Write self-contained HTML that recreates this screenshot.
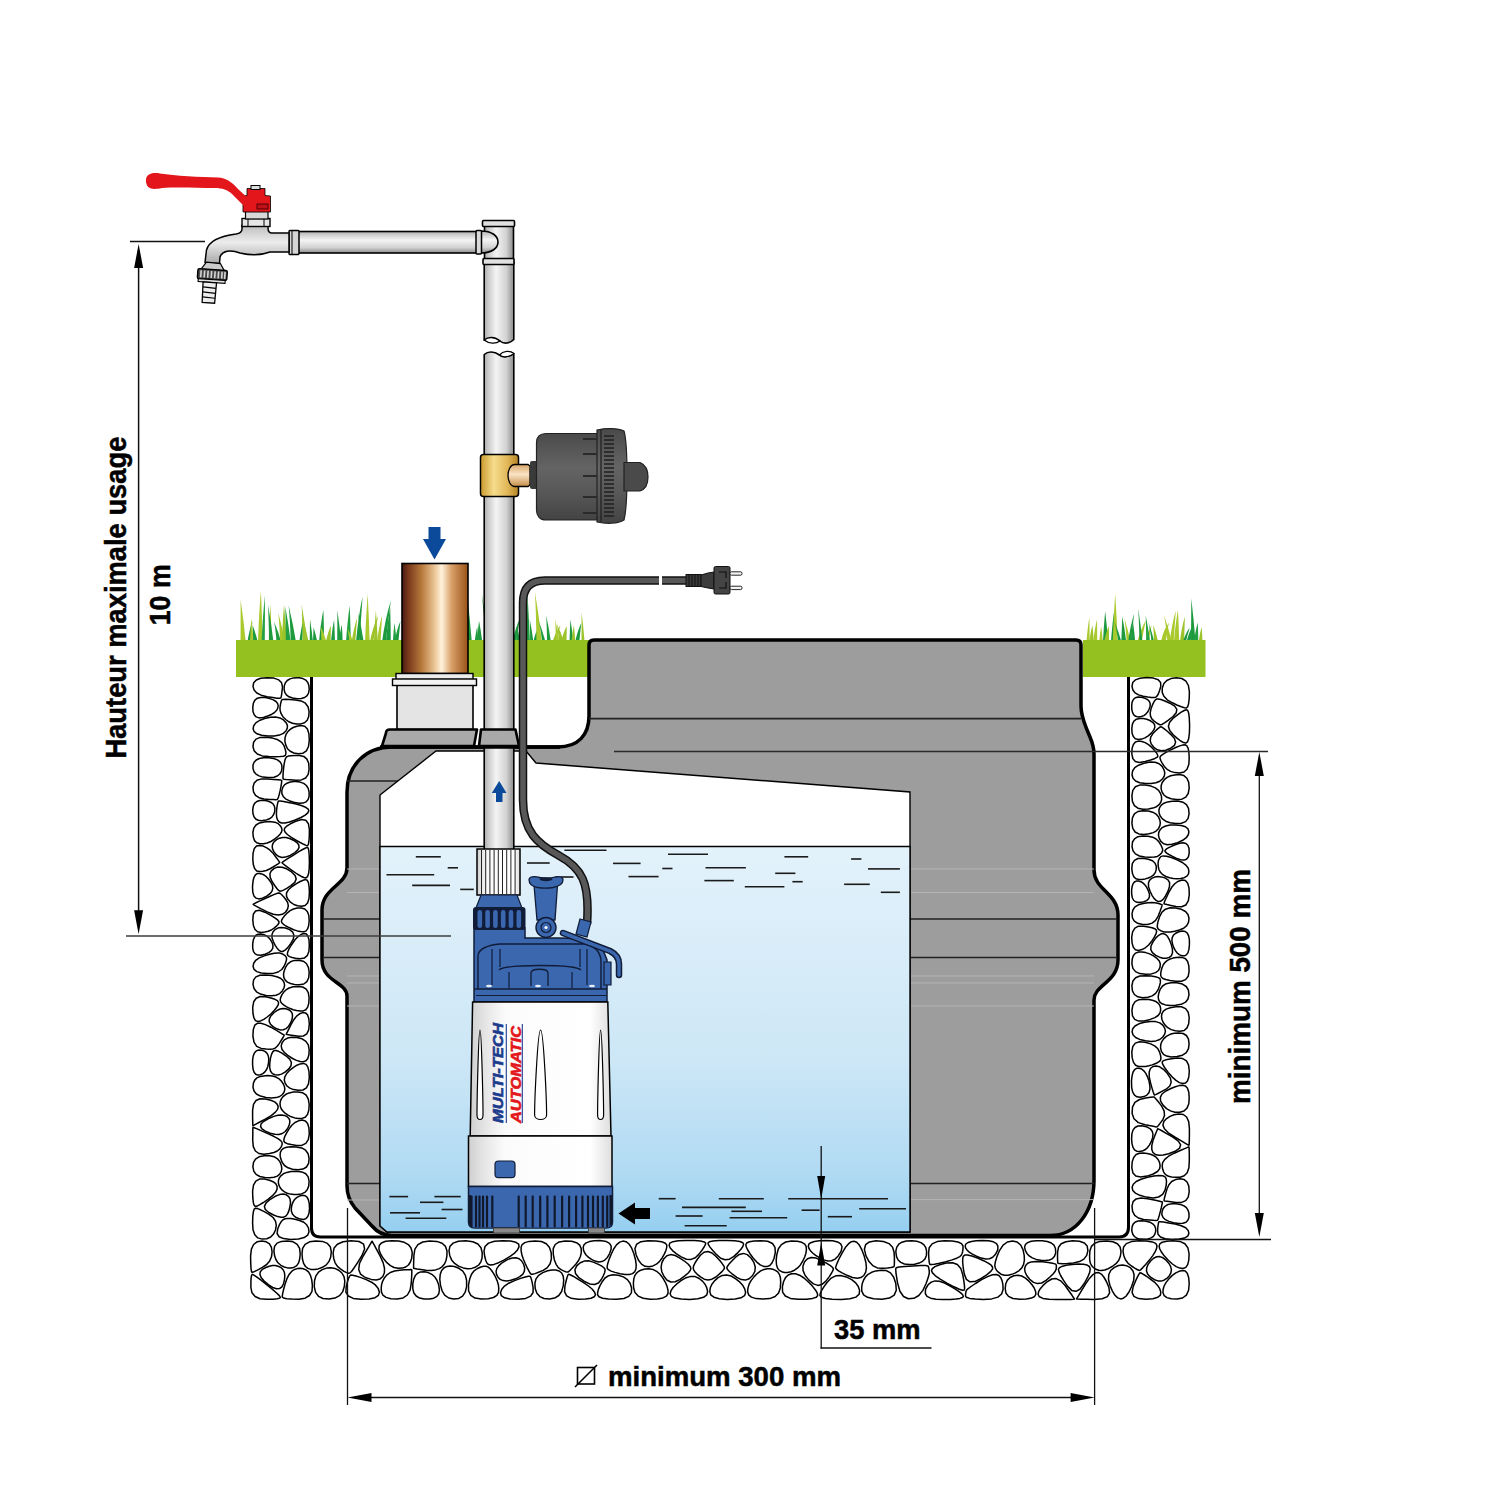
<!DOCTYPE html><html><head><meta charset="utf-8"><style>html,body{margin:0;padding:0;background:#fff;}svg{display:block;}</style></head><body><svg width="1500" height="1500" viewBox="0 0 1500 1500"><rect width="1500" height="1500" fill="#fff"/>
<defs>
 <linearGradient id="gWater" x1="0" y1="0" x2="0" y2="1">
  <stop offset="0" stop-color="#e3f2fb"/>
  <stop offset="0.55" stop-color="#cde7f6"/>
  <stop offset="0.85" stop-color="#b0daf3"/>
  <stop offset="1" stop-color="#95cff0"/>
 </linearGradient>
 <linearGradient id="gPipeV" x1="0" y1="0" x2="1" y2="0">
  <stop offset="0" stop-color="#a9a9a9"/>
  <stop offset="0.12" stop-color="#c8c8c8"/>
  <stop offset="0.4" stop-color="#f4f4f4"/>
  <stop offset="0.75" stop-color="#d2d2d2"/>
  <stop offset="1" stop-color="#8c8c8c"/>
 </linearGradient>
 <linearGradient id="gPipeH" x1="0" y1="0" x2="0" y2="1">
  <stop offset="0" stop-color="#a9a9a9"/>
  <stop offset="0.12" stop-color="#c8c8c8"/>
  <stop offset="0.4" stop-color="#f4f4f4"/>
  <stop offset="0.75" stop-color="#d2d2d2"/>
  <stop offset="1" stop-color="#8c8c8c"/>
 </linearGradient>
 <linearGradient id="gCopper" x1="0" y1="0" x2="1" y2="0">
  <stop offset="0" stop-color="#4a1a12"/>
  <stop offset="0.1" stop-color="#7a3a1c"/>
  <stop offset="0.3" stop-color="#b87a3c"/>
  <stop offset="0.5" stop-color="#ecc89a"/>
  <stop offset="0.6" stop-color="#fff2dc"/>
  <stop offset="0.75" stop-color="#d9a068"/>
  <stop offset="1" stop-color="#9a5218"/>
 </linearGradient>
 <linearGradient id="gBrass" x1="0" y1="0" x2="1" y2="0">
  <stop offset="0" stop-color="#c99a2c"/>
  <stop offset="0.35" stop-color="#f6dc8c"/>
  <stop offset="0.7" stop-color="#e2b85a"/>
  <stop offset="1" stop-color="#b48424"/>
 </linearGradient>
 <linearGradient id="gBrass2" x1="0" y1="0" x2="0" y2="1">
  <stop offset="0" stop-color="#d7a86a"/>
  <stop offset="0.45" stop-color="#fbe3c6"/>
  <stop offset="1" stop-color="#c48e48"/>
 </linearGradient>
 <linearGradient id="gDark" x1="0" y1="0" x2="0" y2="1">
  <stop offset="0" stop-color="#4a4a4a"/>
  <stop offset="0.4" stop-color="#646464"/>
  <stop offset="0.7" stop-color="#575757"/>
  <stop offset="1" stop-color="#434343"/>
 </linearGradient>
 <linearGradient id="gPumpW" x1="0" y1="0" x2="1" y2="0">
  <stop offset="0" stop-color="#cfcfcf"/>
  <stop offset="0.1" stop-color="#e4e4e4"/>
  <stop offset="0.25" stop-color="#fbfbfb"/>
  <stop offset="0.85" stop-color="#ffffff"/>
  <stop offset="1" stop-color="#dedede"/>
 </linearGradient>
 <linearGradient id="gTap" x1="0" y1="0" x2="0" y2="1">
  <stop offset="0" stop-color="#bdbdbd"/>
  <stop offset="0.45" stop-color="#ececec"/>
  <stop offset="1" stop-color="#a8a8a8"/>
 </linearGradient>
</defs>
<path d="M240.5,643 Q240.7,618.1 240.6,599.4 Q243.6,620.2 245.9,643Z" fill="#a9c92c"/><path d="M247.3,643 Q249.2,630.2 252.4,621.3 Q251.4,631.2 250.4,643Z" fill="#1d9a3e"/><path d="M250.0,643 Q250.6,628.3 251.3,618.0 Q252.7,629.5 253.8,643Z" fill="#a9c92c"/><path d="M253.2,643 Q253.1,632.4 252.6,625.3 Q255.7,633.2 258.1,643Z" fill="#1d9a3e"/><path d="M257.9,643 Q259.0,613.2 260.9,590.4 Q262.0,615.7 262.7,643Z" fill="#a9c92c"/><path d="M261.5,643 Q262.8,615.9 264.9,595.3 Q265.0,618.2 264.8,643Z" fill="#23a041"/><path d="M268.6,643 Q269.4,620.6 270.5,604.0 Q271.2,622.5 271.7,643Z" fill="#a9c92c"/><path d="M269.1,643 Q268.8,621.1 268.0,604.8 Q271.2,622.9 273.6,643Z" fill="#1d9a3e"/><path d="M276.6,643 Q275.8,630.5 274.1,621.8 Q278.3,631.4 281.5,643Z" fill="#1d9a3e"/><path d="M280.1,643 Q279.6,625.4 278.3,612.7 Q282.2,626.9 285.1,643Z" fill="#a9c92c"/><path d="M281.8,643 Q282.7,621.0 284.0,604.7 Q285.7,622.8 286.9,643Z" fill="#9cc42a"/><path d="M285.8,643 Q285.7,621.9 285.3,606.4 Q288.5,623.7 290.9,643Z" fill="#23a041"/><path d="M290.8,643 Q290.2,621.4 288.6,605.3 Q292.9,623.2 296.2,643Z" fill="#1d9a3e"/><path d="M299.2,643 Q300.7,629.9 303.2,620.7 Q302.8,630.9 302.3,643Z" fill="#1d9a3e"/><path d="M302.8,643 Q302.5,620.9 301.6,604.4 Q304.9,622.7 307.5,643Z" fill="#9cc42a"/><path d="M303.9,643 Q303.2,626.3 301.7,614.2 Q305.8,627.6 308.9,643Z" fill="#9cc42a"/><path d="M309.7,643 Q309.9,629.1 310.0,619.3 Q311.8,630.2 313.1,643Z" fill="#1d9a3e"/><path d="M312.9,643 Q313.3,633.6 313.6,627.5 Q315.9,634.3 317.5,643Z" fill="#1d9a3e"/><path d="M318.9,643 Q320.6,623.9 323.4,609.8 Q323.9,625.4 324.1,643Z" fill="#1d9a3e"/><path d="M321.4,643 Q321.3,632.9 320.6,626.3 Q324.2,633.6 326.9,643Z" fill="#a9c92c"/><path d="M325.7,643 Q327.6,632.4 330.9,625.4 Q330.8,633.2 330.6,643Z" fill="#9cc42a"/><path d="M330.8,643 Q332.1,629.3 334.1,619.7 Q334.7,630.3 335.0,643Z" fill="#1d9a3e"/><path d="M337.2,643 Q337.3,624.3 337.4,610.6 Q339.6,625.8 341.3,643Z" fill="#1d9a3e"/><path d="M338.9,643 Q340.0,632.0 341.8,624.6 Q342.4,632.8 342.7,643Z" fill="#1d9a3e"/><path d="M345.9,643 Q347.4,621.5 349.7,605.5 Q350.5,623.3 350.8,643Z" fill="#23a041"/><path d="M349.4,643 Q348.8,633.8 347.4,627.9 Q350.9,634.5 353.6,643Z" fill="#a9c92c"/><path d="M351.5,643 Q353.6,628.4 357.1,618.0 Q356.2,629.5 355.2,643Z" fill="#9cc42a"/><path d="M355.9,643 Q358.3,616.6 362.6,596.6 Q361.0,618.8 359.6,643Z" fill="#1d9a3e"/><path d="M359.9,643 Q359.4,625.5 358.2,612.7 Q361.4,626.9 363.9,643Z" fill="#1d9a3e"/><path d="M365.0,643 Q366.1,615.2 367.7,594.1 Q368.9,617.6 369.7,643Z" fill="#a9c92c"/><path d="M369.6,643 Q372.7,627.2 378.2,615.8 Q375.5,628.4 373.1,643Z" fill="#9cc42a"/><path d="M373.9,643 Q374.7,624.2 375.9,610.4 Q377.1,625.7 377.8,643Z" fill="#9cc42a"/><path d="M376.8,643 Q378.8,626.9 382.1,615.4 Q381.3,628.2 380.5,643Z" fill="#a9c92c"/><path d="M381.9,643 Q385.1,618.9 390.8,600.8 Q388.1,620.9 385.7,643Z" fill="#1d9a3e"/><path d="M385.8,643 Q387.5,622.7 390.2,607.7 Q390.7,624.4 390.8,643Z" fill="#1d9a3e"/><path d="M392.8,643 Q393.5,631.0 394.5,622.7 Q395.8,631.9 396.7,643Z" fill="#23a041"/><path d="M394.4,643 Q396.6,630.1 400.4,621.1 Q399.4,631.1 398.3,643Z" fill="#1d9a3e"/><path d="M401.9,643 Q404.1,622.7 407.8,607.8 Q406.7,624.4 405.7,643Z" fill="#9cc42a"/><path d="M403.3,643 Q405.5,627.0 409.3,615.5 Q408.5,628.3 407.7,643Z" fill="#1d9a3e"/><path d="M409.0,643 Q410.3,633.0 412.3,626.4 Q413.2,633.7 413.7,643Z" fill="#1d9a3e"/><path d="M411.5,643 Q410.7,618.1 408.7,599.3 Q412.7,620.2 415.8,643Z" fill="#9cc42a"/><path d="M416.8,643 Q415.9,634.0 414.2,628.4 Q417.6,634.7 420.2,643Z" fill="#9cc42a"/><path d="M421.2,643 Q423.7,627.0 428.1,615.6 Q427.4,628.3 426.6,643Z" fill="#23a041"/><path d="M427.9,643 Q427.9,618.9 427.6,600.8 Q429.6,620.9 431.2,643Z" fill="#9cc42a"/><path d="M428.8,643 Q428.5,632.4 427.6,625.4 Q430.4,633.2 432.4,643Z" fill="#9cc42a"/><path d="M436.1,643 Q436.4,622.7 436.7,607.7 Q438.2,624.4 439.2,643Z" fill="#1d9a3e"/><path d="M440.2,643 Q438.8,631.4 435.9,623.6 Q440.0,632.3 443.3,643Z" fill="#1d9a3e"/><path d="M443.0,643 Q441.4,627.6 438.2,616.6 Q443.0,628.8 446.8,643Z" fill="#23a041"/><path d="M448.2,643 Q450.6,633.7 454.5,627.7 Q454.2,634.3 453.7,643Z" fill="#9cc42a"/><path d="M449.7,643 Q450.3,631.8 451.1,624.3 Q453.3,632.6 454.9,643Z" fill="#23a041"/><path d="M454.7,643 Q453.5,615.2 450.9,594.2 Q454.9,617.6 458.0,643Z" fill="#a9c92c"/><path d="M459.2,643 Q461.3,622.6 465.0,607.6 Q463.6,624.3 462.2,643Z" fill="#1d9a3e"/><path d="M465.6,643 Q464.9,614.9 463.3,593.6 Q467.3,617.3 470.3,643Z" fill="#9cc42a"/><path d="M466.5,643 Q466.8,615.1 467.1,593.9 Q469.8,617.4 471.9,643Z" fill="#1d9a3e"/><path d="M474.6,643 Q475.6,633.1 477.2,626.7 Q477.9,633.8 478.3,643Z" fill="#1d9a3e"/><path d="M476.9,643 Q477.8,630.0 479.1,620.9 Q481.0,631.0 482.4,643Z" fill="#1d9a3e"/><path d="M483.2,643 Q484.7,631.4 487.1,623.6 Q487.5,632.3 487.6,643Z" fill="#1d9a3e"/><path d="M485.6,643 Q484.3,615.1 481.7,593.9 Q486.4,617.4 490.0,643Z" fill="#23a041"/><path d="M487.9,643 Q486.6,633.3 483.7,627.1 Q489.1,634.0 493.4,643Z" fill="#23a041"/><path d="M493.4,643 Q491.9,626.4 489.1,614.4 Q493.3,627.7 496.5,643Z" fill="#23a041"/><path d="M498.3,643 Q498.0,628.2 497.1,617.7 Q499.9,629.4 502.0,643Z" fill="#1d9a3e"/><path d="M504.0,643 Q503.4,628.2 502.0,617.7 Q506.0,629.4 509.0,643Z" fill="#a9c92c"/><path d="M508.2,643 Q509.1,632.5 510.6,625.6 Q511.7,633.3 512.4,643Z" fill="#23a041"/><path d="M512.4,643 Q515.1,628.4 520.0,618.1 Q517.9,629.5 516.1,643Z" fill="#1d9a3e"/><path d="M516.3,643 Q516.5,633.1 516.7,626.6 Q518.9,633.8 520.5,643Z" fill="#1d9a3e"/><path d="M521.1,643 Q523.3,628.0 527.2,617.3 Q525.6,629.2 524.2,643Z" fill="#9cc42a"/><path d="M526.6,643 Q527.0,615.0 527.5,593.7 Q528.9,617.3 530.0,643Z" fill="#23a041"/><path d="M530.1,643 Q530.0,629.2 529.8,619.5 Q531.9,630.3 533.6,643Z" fill="#1d9a3e"/><path d="M533.0,643 Q535.0,633.5 538.4,627.3 Q538.6,634.1 538.4,643Z" fill="#1d9a3e"/><path d="M536.5,643 Q536.1,614.1 535.0,592.1 Q539.0,616.5 542.0,643Z" fill="#a9c92c"/><path d="M542.2,643 Q541.0,629.7 538.5,620.4 Q542.6,630.7 545.9,643Z" fill="#1d9a3e"/><path d="M547.0,643 Q546.9,626.8 546.2,615.2 Q549.0,628.1 551.1,643Z" fill="#1d9a3e"/><path d="M552.2,643 Q555.2,632.3 560.4,625.2 Q558.0,633.1 556.0,643Z" fill="#9cc42a"/><path d="M555.9,643 Q555.7,628.9 555.2,619.0 Q557.6,630.0 559.4,643Z" fill="#a9c92c"/><path d="M558.8,643 Q558.3,631.7 556.9,624.1 Q561.1,632.5 564.2,643Z" fill="#9cc42a"/><path d="M560.9,643 Q563.1,632.8 566.8,626.1 Q566.7,633.5 566.4,643Z" fill="#9cc42a"/><path d="M569.5,643 Q569.9,629.2 570.4,619.5 Q572.2,630.2 573.6,643Z" fill="#1d9a3e"/><path d="M571.4,643 Q572.4,632.4 573.9,625.3 Q574.8,633.2 575.4,643Z" fill="#9cc42a"/><path d="M575.0,643 Q577.3,631.2 581.3,623.1 Q580.2,632.1 579.2,643Z" fill="#1d9a3e"/><path d="M581.5,643 Q581.6,625.4 581.6,612.6 Q583.4,626.8 584.7,643Z" fill="#9cc42a"/><path d="M1086.4,643 Q1087.5,628.1 1089.4,617.6 Q1089.6,629.3 1089.6,643Z" fill="#a9c92c"/><path d="M1089.2,643 Q1090.4,632.3 1092.4,625.2 Q1093.3,633.1 1093.8,643Z" fill="#9cc42a"/><path d="M1093.1,643 Q1094.6,629.2 1097.0,619.6 Q1097.2,630.3 1097.2,643Z" fill="#a9c92c"/><path d="M1099.1,643 Q1099.9,633.0 1101.2,626.4 Q1102.2,633.7 1102.9,643Z" fill="#a9c92c"/><path d="M1102.9,643 Q1103.9,624.6 1105.2,611.2 Q1107.0,626.1 1108.2,643Z" fill="#1d9a3e"/><path d="M1103.8,643 Q1105.7,632.8 1108.9,626.2 Q1109.1,633.6 1109.0,643Z" fill="#9cc42a"/><path d="M1110.9,643 Q1112.2,624.0 1114.3,610.1 Q1114.9,625.6 1115.2,643Z" fill="#1d9a3e"/><path d="M1112.7,643 Q1113.7,615.3 1115.2,594.2 Q1116.8,617.6 1117.8,643Z" fill="#a9c92c"/><path d="M1118.3,643 Q1117.0,630.4 1114.4,621.7 Q1118.6,631.3 1121.8,643Z" fill="#1d9a3e"/><path d="M1121.3,643 Q1121.8,627.5 1122.3,616.4 Q1124.7,628.7 1126.4,643Z" fill="#1d9a3e"/><path d="M1126.7,643 Q1126.0,628.5 1124.4,618.3 Q1128.0,629.6 1130.7,643Z" fill="#a9c92c"/><path d="M1128.0,643 Q1130.2,626.0 1134.2,613.6 Q1132.5,627.3 1131.0,643Z" fill="#1d9a3e"/><path d="M1130.7,643 Q1131.6,630.6 1133.0,622.2 Q1134.4,631.6 1135.3,643Z" fill="#1d9a3e"/><path d="M1137.1,643 Q1140.2,629.6 1145.8,620.4 Q1143.5,630.7 1141.4,643Z" fill="#a9c92c"/><path d="M1139.5,643 Q1139.1,623.0 1138.2,608.3 Q1140.7,624.7 1142.6,643Z" fill="#1d9a3e"/><path d="M1145.5,643 Q1147.7,632.1 1151.6,624.8 Q1150.0,632.9 1148.5,643Z" fill="#a9c92c"/><path d="M1146.2,643 Q1146.1,626.8 1145.7,615.3 Q1148.3,628.1 1150.3,643Z" fill="#23a041"/><path d="M1151.6,643 Q1150.5,630.4 1148.2,621.7 Q1151.8,631.3 1154.6,643Z" fill="#1d9a3e"/><path d="M1153.9,643 Q1153.8,632.1 1153.2,624.8 Q1156.2,632.9 1158.5,643Z" fill="#9cc42a"/><path d="M1160.7,643 Q1162.9,632.8 1166.6,626.1 Q1165.9,633.5 1165.1,643Z" fill="#a9c92c"/><path d="M1160.9,643 Q1163.8,630.9 1168.9,622.6 Q1167.2,631.8 1165.6,643Z" fill="#a9c92c"/><path d="M1167.5,643 Q1166.4,626.9 1164.0,615.3 Q1168.6,628.2 1172.1,643Z" fill="#a9c92c"/><path d="M1169.5,643 Q1171.8,624.2 1175.8,610.4 Q1174.7,625.7 1173.6,643Z" fill="#a9c92c"/><path d="M1173.8,643 Q1175.4,624.0 1178.0,610.1 Q1178.8,625.6 1179.2,643Z" fill="#a9c92c"/><path d="M1179.7,643 Q1181.6,627.6 1184.9,616.6 Q1184.5,628.8 1184.1,643Z" fill="#9cc42a"/><path d="M1182.6,643 Q1185.2,633.6 1189.8,627.5 Q1187.6,634.3 1185.6,643Z" fill="#1d9a3e"/><path d="M1186.3,643 Q1188.7,632.4 1192.8,625.4 Q1191.6,633.2 1190.4,643Z" fill="#1d9a3e"/><path d="M1191.0,643 Q1191.2,617.5 1191.3,598.3 Q1193.8,619.7 1195.6,643Z" fill="#1d9a3e"/><path d="M1193.8,643 Q1195.3,630.8 1197.8,622.4 Q1198.2,631.7 1198.3,643Z" fill="#23a041"/><path d="M1198.6,643 Q1199.7,633.2 1201.6,626.9 Q1202.2,633.9 1202.6,643Z" fill="#9cc42a"/><rect x="236" y="640" width="354" height="37" fill="#94c11f"/><rect x="1083" y="640" width="122.5" height="37" fill="#94c11f"/><g fill="#fff" stroke="#000" stroke-width="1.5" stroke-linejoin="round"><path d="M296.5,1171.3 301.9,1171.9 305.8,1173.7 308.2,1176.9 309.1,1181.3 308.7,1186.1 307.2,1189.8 304.8,1192.4 301.4,1193.9 297.4,1194.4 293.7,1194.5 290.4,1194.1 287.2,1193.2 284.5,1191.9 282.2,1190.2 280.4,1188.1 279.1,1185.7 278.4,1183.0 278.4,1180.5 279.2,1178.1 280.9,1175.8 283.3,1173.8 286.8,1172.4 291.1,1171.5Z"/><path d="M281.4,1150.2 283.4,1148.4 286.5,1147.2 290.8,1146.7 296.2,1146.9 301.7,1147.9 305.6,1150.2 308.1,1153.7 309.1,1158.5 308.6,1163.4 306.5,1167.0 303.0,1169.1 298.0,1169.8 292.5,1169.2 288.0,1167.8 284.5,1165.5 282.1,1162.2 280.7,1158.6 280.1,1155.4 280.3,1152.6Z"/><path d="M252.6,1191.1 252.8,1197.7 253.3,1202.4 254.1,1205.3 255.3,1206.4 257.1,1206.1 259.8,1204.7 263.4,1202.5 268.0,1199.3 272.5,1195.7 275.6,1192.3 277.1,1189.2 277.1,1186.3 275.7,1183.7 273.1,1181.7 269.4,1180.2 264.5,1179.1 259.4,1179.1 255.8,1181.1 253.5,1185.1Z"/><path d="M286.4,1194.8 283.2,1194.1 279.5,1194.6 275.2,1196.3 270.3,1199.3 266.1,1202.9 264.4,1206.4 265.3,1209.5 268.8,1212.5 273.6,1215.0 277.7,1216.6 281.1,1217.3 283.7,1217.2 285.7,1216.2 287.4,1214.1 288.8,1211.1 289.9,1207.0 290.5,1202.7 290.1,1199.2 288.7,1196.6Z"/><path d="M309.0,1231.8 308.5,1228.0 306.7,1224.8 303.8,1222.3 299.6,1220.5 295.0,1219.3 291.0,1218.6 287.7,1218.4 285.1,1218.7 283.0,1219.7 281.1,1221.8 279.3,1224.9 277.7,1229.1 277.1,1233.5 279.0,1236.7 283.6,1238.6 290.6,1239.4 298.5,1239.0 304.2,1237.6 307.7,1235.2Z"/><path d="M264.0,1155.7 269.6,1155.7 274.1,1156.7 277.5,1158.8 280.0,1161.9 281.4,1165.6 281.8,1168.8 281.2,1171.7 279.7,1174.1 277.3,1176.1 274.0,1177.3 269.8,1177.8 264.8,1177.6 259.8,1176.5 256.1,1174.4 253.8,1171.2 252.9,1166.9 253.5,1162.4 255.5,1159.1 259.0,1156.8Z"/><path d="M255.6,1208.2 254.3,1208.9 253.4,1211.6 252.8,1216.1 252.6,1222.7 253.0,1229.7 254.8,1234.8 257.8,1237.9 262.1,1239.1 266.8,1238.7 270.7,1237.0 273.5,1234.1 275.5,1230.0 276.3,1225.3 275.5,1221.2 273.1,1217.5 269.0,1214.3 264.3,1211.7 260.5,1209.8 257.6,1208.6Z"/><path d="M263.9,1154.2 269.4,1153.5 273.9,1152.5 277.3,1151.0 279.6,1149.2 281.0,1147.1 281.9,1145.2 282.2,1143.6 281.9,1142.1 280.7,1140.6 278.0,1138.6 273.7,1136.3 267.8,1133.6 261.6,1130.9 257.1,1128.9 254.2,1127.7 253.0,1127.2 252.9,1127.9 252.8,1130.3 252.8,1134.4 252.7,1140.3 253.3,1146.6 255.4,1151.0 258.9,1153.5Z"/><path d="M301.9,1195.4 299.0,1196.3 296.6,1197.6 294.6,1199.5 293.1,1201.9 291.9,1204.9 291.3,1208.3 291.4,1211.3 292.4,1213.9 294.2,1216.1 296.8,1217.8 300.2,1219.1 303.5,1219.5 306.0,1218.6 307.8,1216.5 309.0,1213.3 309.5,1208.8 309.3,1203.9 308.5,1200.1 307.2,1197.4 305.3,1195.8 302.8,1195.3Z"/><path d="M309.3,1134.0 308.9,1127.8 307.6,1123.5 305.4,1120.9 302.2,1120.1 298.5,1120.8 295.0,1122.5 291.8,1125.3 288.9,1129.1 286.4,1133.3 284.7,1136.7 283.9,1139.3 283.9,1141.2 284.9,1142.5 287.3,1143.7 291.2,1144.6 296.4,1145.4 301.8,1145.4 305.8,1143.4 308.3,1139.7Z"/><path d="M267.7,1119.0 263.4,1121.6 261.0,1124.1 260.6,1126.5 262.0,1128.8 265.3,1131.1 270.2,1133.2 274.8,1134.3 278.9,1134.5 282.3,1133.5 285.2,1131.5 287.6,1128.5 289.1,1125.4 289.8,1122.6 289.7,1120.2 288.7,1118.2 286.9,1116.5 284.3,1115.4 281.3,1115.0 277.8,1115.3 273.8,1116.4 269.3,1118.2Z"/><path d="M280.3,1106.2 280.0,1103.6 280.4,1101.1 281.5,1098.6 283.3,1096.3 285.9,1094.3 289.2,1092.9 293.2,1092.1 298.0,1092.0 302.8,1092.8 306.2,1095.2 308.3,1099.1 309.2,1104.5 308.8,1110.3 307.5,1114.5 305.2,1117.2 302.0,1118.4 298.3,1118.4 294.7,1117.9 291.3,1116.8 288.0,1115.2 285.1,1113.2 282.9,1111.0 281.2,1108.7Z"/><path d="M278.2,1106.6 277.1,1104.1 274.7,1101.9 270.8,1100.2 265.6,1098.9 260.0,1098.7 256.0,1100.5 253.5,1104.3 252.6,1110.3 252.6,1116.8 252.7,1121.6 252.8,1124.5 252.9,1125.7 253.6,1125.3 255.9,1124.1 259.8,1122.0 265.3,1119.1 271.2,1115.6 275.2,1112.4 277.6,1109.4Z"/><path d="M283.2,1083.7 284.5,1086.7 284.8,1089.5 284.1,1092.1 282.4,1094.5 279.7,1096.5 276.1,1097.6 271.5,1097.9 266.0,1097.5 260.4,1096.1 256.4,1094.0 254.0,1091.0 253.0,1087.2 253.4,1083.2 254.7,1080.1 256.9,1077.9 260.1,1076.5 263.7,1075.9 267.2,1075.6 270.5,1075.8 273.6,1076.3 276.5,1077.3 279.1,1078.9 281.3,1081.0Z"/><path d="M285.1,1083.1 287.0,1086.0 289.8,1088.1 293.6,1089.6 298.2,1090.3 303.0,1090.0 306.4,1087.8 308.5,1083.8 309.3,1077.9 309.0,1071.6 307.9,1067.1 306.1,1064.4 303.4,1063.4 300.2,1063.9 296.9,1065.2 293.5,1067.3 289.9,1070.1 286.7,1073.5 284.8,1076.8 284.3,1080.0Z"/><path d="M282.1,1042.7 284.3,1039.9 287.6,1038.1 291.7,1037.3 296.9,1037.5 302.1,1038.8 305.9,1041.3 308.3,1044.9 309.2,1049.8 308.9,1054.8 307.8,1058.5 306.0,1060.8 303.3,1061.7 300.1,1061.5 296.5,1060.4 292.5,1058.5 288.2,1055.7 284.3,1052.4 281.9,1049.2 281.2,1045.9Z"/><path d="M285.9,1055.8 289.7,1059.1 291.4,1062.5 291.0,1065.8 288.6,1069.2 285.0,1072.2 281.5,1074.1 278.2,1075.0 275.0,1074.8 272.4,1073.6 270.6,1071.2 269.7,1067.7 269.8,1063.0 270.5,1058.1 271.5,1054.4 272.7,1051.9 274.1,1050.6 276.0,1050.5 278.6,1051.3 281.9,1053.1Z"/><path d="M273.2,1013.4 270.6,1016.3 269.3,1019.1 269.2,1021.7 270.5,1024.2 273.0,1026.6 276.7,1028.8 280.2,1029.9 283.3,1029.8 286.1,1028.6 288.6,1026.2 290.7,1022.7 292.1,1019.1 292.5,1016.0 292.2,1013.4 290.9,1011.3 288.7,1009.7 285.9,1008.7 283.0,1008.4 280.1,1009.0 277.2,1010.4 274.2,1012.5Z"/><path d="M261.8,1050.2 258.7,1050.0 256.2,1050.9 254.4,1052.9 253.2,1056.0 252.6,1060.2 252.6,1065.2 253.1,1069.3 254.1,1072.3 255.7,1074.3 257.8,1075.1 260.4,1074.7 262.9,1073.6 264.9,1071.9 266.6,1069.5 267.8,1066.5 268.5,1062.9 268.8,1059.1 268.3,1056.0 267.2,1053.5 265.3,1051.6 262.8,1050.4Z"/><path d="M280.3,1041.9 282.4,1038.5 283.7,1036.3 284.2,1035.2 283.7,1034.8 281.3,1033.3 276.9,1030.7 270.9,1027.2 265.4,1024.6 260.9,1023.3 257.3,1023.3 254.8,1025.2 253.3,1029.5 252.9,1036.0 254.0,1042.2 256.7,1046.4 261.2,1048.4 266.2,1049.0 270.2,1049.2 273.0,1048.9 275.1,1048.1 277.2,1046.3 279.4,1043.4Z"/><path d="M298.5,1036.3 293.3,1035.5 289.6,1034.9 287.2,1034.5 286.3,1034.3 286.5,1033.7 287.4,1031.9 288.9,1028.8 291.1,1024.4 293.8,1019.7 296.6,1016.1 299.6,1013.8 302.7,1012.6 305.5,1012.9 307.6,1014.9 308.8,1018.6 309.3,1024.0 308.7,1029.9 306.8,1033.9 303.4,1036.0Z"/><path d="M283.4,992.6 285.9,989.9 289.1,988.0 293.2,986.8 298.0,986.4 302.7,987.0 306.2,989.1 308.3,992.6 309.1,997.7 308.8,1003.1 307.7,1007.1 305.8,1009.7 303.2,1010.9 300.0,1011.0 296.6,1010.6 293.2,1009.7 289.6,1008.3 286.2,1006.6 283.6,1004.9 281.7,1003.3 280.6,1001.7 280.2,999.9 280.6,997.9 281.6,995.4Z"/><path d="M266.0,995.4 260.5,994.1 256.5,991.8 254.0,988.5 253.0,984.3 253.6,979.9 255.9,976.9 259.9,975.3 265.5,974.9 271.8,975.6 276.8,976.7 280.5,978.3 282.9,980.4 284.2,982.8 284.6,985.3 283.9,988.1 282.3,990.9 279.7,993.6 276.1,995.2 271.6,995.8Z"/><path d="M299.4,984.8 294.5,984.4 290.5,983.5 287.4,982.1 285.2,980.1 283.9,977.6 283.5,974.7 284.0,971.4 285.4,967.7 287.6,964.2 290.5,961.8 294.3,960.4 298.7,960.2 303.2,961.2 306.4,963.5 308.4,967.3 309.2,972.4 308.7,977.8 306.9,981.6 303.8,984.0Z"/><path d="M265.7,996.8 260.2,996.5 256.2,998.2 253.7,1001.8 252.7,1007.4 253.0,1013.5 253.9,1017.9 255.5,1020.6 257.8,1021.5 260.6,1020.9 263.8,1019.4 267.2,1017.0 271.1,1013.7 274.6,1010.0 277.1,1006.8 278.4,1004.3 278.5,1002.3 277.4,1000.7 274.9,999.3 271.0,998.0Z"/><path d="M267.4,973.6 261.2,973.0 256.8,971.6 254.1,969.4 253.1,966.4 253.7,963.2 255.7,960.3 259.2,957.9 264.2,955.9 269.7,954.3 274.2,953.3 277.6,952.9 280.0,953.1 281.8,953.7 283.3,954.4 284.6,955.3 285.7,956.3 286.5,957.7 286.5,959.8 285.7,962.6 284.2,966.0 281.8,969.5 278.2,972.0 273.4,973.4Z"/><path d="M275.4,929.3 273.1,931.7 272.0,934.5 272.0,937.8 273.3,941.6 275.2,945.4 277.1,948.2 279.0,950.3 280.8,951.4 282.7,951.5 285.0,950.2 287.7,947.6 290.7,943.7 293.3,939.1 293.9,935.3 292.7,932.1 289.6,929.6 285.5,928.0 281.7,927.4 278.4,927.8Z"/><path d="M267.2,911.9 261.2,908.9 256.9,906.6 254.2,905.1 253.2,904.4 253.8,903.9 255.8,902.8 259.4,901.1 264.5,898.7 270.1,896.2 274.4,894.4 277.4,893.3 279.2,893.0 280.3,893.5 281.7,894.7 283.6,896.7 285.8,899.5 287.7,902.7 288.3,905.9 287.6,909.0 285.6,912.0 282.4,914.3 278.3,915.1 273.2,914.3Z"/><path d="M301.5,906.3 297.5,905.8 293.9,904.5 290.8,902.4 288.1,899.6 286.5,896.3 286.5,893.0 288.4,889.8 292.0,886.5 296.5,883.6 300.2,881.5 303.2,880.2 305.5,879.6 307.2,880.2 308.4,882.6 309.1,886.6 309.4,892.3 309.0,898.5 307.6,902.9 305.1,905.5Z"/><path d="M289.5,927.8 293.6,929.7 297.3,930.9 300.6,931.6 303.5,931.8 305.9,931.1 307.6,928.9 308.7,925.5 309.2,920.6 308.8,915.3 307.3,911.5 304.8,909.0 301.3,908.0 297.2,908.1 293.5,909.0 290.1,910.6 287.1,913.1 284.6,915.8 282.8,918.1 281.7,920.0 281.4,921.5 281.9,922.8 283.4,924.3 285.9,926.0Z"/><path d="M274.1,928.1 271.3,930.0 268.2,931.3 264.8,932.1 261.1,932.4 257.6,931.8 255.0,929.5 253.4,925.5 252.8,919.9 253.3,914.2 255.6,911.0 259.4,910.3 264.9,912.2 270.9,915.4 275.2,918.1 277.9,920.2 279.0,921.7 278.9,923.0 278.0,924.5 276.4,926.2Z"/><path d="M252.5,887.1 252.8,892.3 253.9,895.9 255.9,898.1 258.7,898.9 262.4,898.2 266.7,896.1 270.0,893.7 272.0,891.1 272.8,888.3 272.4,885.2 270.7,882.0 268.5,879.0 266.3,876.7 264.1,875.0 261.7,873.9 259.4,873.4 257.2,873.6 255.4,874.9 254.0,877.3 253.1,880.8 252.6,885.4Z"/><path d="M260.8,934.1 258.1,934.3 256.0,935.3 254.4,937.3 253.3,940.1 252.7,943.8 252.7,948.1 253.5,951.6 255.2,953.9 257.6,955.1 260.9,955.2 265.1,954.2 268.7,952.6 271.3,950.7 272.7,948.4 273.0,945.9 272.3,943.0 270.7,940.1 268.8,937.8 266.7,936.0 264.4,934.8 261.8,934.2Z"/><path d="M291.6,871.9 286.6,868.8 282.1,867.2 277.9,867.0 274.2,868.4 271.3,870.8 269.9,873.8 270.2,877.4 272.0,881.5 274.7,885.5 276.9,888.5 278.6,890.4 279.8,891.2 281.2,891.1 283.5,890.1 286.7,888.3 290.9,885.6 294.8,882.4 296.2,879.0 295.1,875.5Z"/><path d="M300.1,958.7 295.6,958.2 292.1,957.5 289.5,956.6 287.9,955.5 287.3,954.1 287.8,951.7 289.3,948.4 291.9,944.2 295.0,939.8 298.1,936.6 301.0,934.5 303.7,933.5 306.1,933.8 307.9,936.0 309.0,939.8 309.3,945.4 308.9,951.5 307.2,955.7 304.3,958.1Z"/><path d="M293.6,853.4 289.4,855.8 285.5,857.1 282.0,857.4 278.9,856.6 276.2,854.7 274.0,851.9 272.6,849.1 272.2,846.4 272.7,844.0 274.2,841.7 276.6,839.7 279.5,838.2 282.7,837.5 286.0,837.6 289.6,838.5 293.4,840.2 296.9,842.5 298.7,844.8 299.1,847.3 297.8,849.9 294.9,852.5Z"/><path d="M306.0,877.9 303.8,877.5 300.9,876.2 297.2,874.0 292.6,870.9 288.1,867.6 284.8,865.1 282.8,863.5 282.0,862.7 282.6,862.1 284.6,860.7 288.1,858.4 293.1,855.3 298.4,851.9 302.6,849.5 305.6,848.0 307.3,847.4 308.2,848.1 308.8,850.7 309.2,855.3 309.4,861.7 309.2,868.6 308.6,873.6 307.5,876.7Z"/><path d="M307.5,845.7 306.1,845.4 303.7,844.3 300.2,842.5 295.6,840.0 290.9,837.1 287.4,834.5 285.2,832.2 284.2,830.2 284.6,828.3 286.7,826.2 290.4,823.8 295.8,821.3 301.6,819.5 305.8,820.3 308.4,823.7 309.4,829.7 309.3,836.5 308.9,841.5 308.3,844.6Z"/><path d="M282.0,830.1 281.7,828.4 281.0,826.7 279.8,825.2 278.2,823.7 276.0,822.6 273.0,821.9 269.1,821.6 264.3,821.9 259.5,822.9 256.0,825.0 253.8,828.2 252.9,832.5 253.3,837.1 254.5,840.6 256.7,842.8 259.9,843.8 263.6,843.8 267.2,843.0 270.9,841.5 274.5,839.2 277.8,836.6 280.1,834.2 281.5,832.0Z"/><path d="M279.7,862.4 279.3,862.8 278.1,863.8 276.0,865.2 273.1,867.0 269.6,869.0 266.3,870.5 262.9,871.3 259.7,871.6 256.7,871.0 254.6,868.6 253.3,864.6 252.8,859.0 253.1,852.9 254.3,848.6 256.5,846.1 259.7,845.4 263.3,846.1 266.8,847.8 270.1,850.2 273.3,853.6 276.0,857.2 278.0,859.9 279.2,861.6Z"/><path d="M295.2,803.8 288.5,802.4 283.6,801.4 280.3,800.9 278.7,800.9 278.1,801.7 277.6,803.4 277.1,806.2 276.6,810.0 276.4,814.1 276.7,817.5 277.6,820.1 279.2,822.0 281.5,823.0 284.9,823.0 289.5,822.0 295.2,820.0 301.0,817.5 305.2,815.1 307.8,812.9 308.8,810.9 308.2,809.1 305.7,807.3 301.3,805.5Z"/><path d="M262.6,820.6 266.4,819.9 269.4,818.8 271.8,817.1 273.5,814.8 274.6,812.0 274.9,808.9 274.4,806.1 273.0,803.9 270.7,802.2 267.6,801.0 263.5,800.3 259.8,800.5 256.8,801.5 254.6,803.4 253.3,806.1 252.7,809.8 253.0,813.7 254.0,816.8 255.7,819.0 258.2,820.2 261.4,820.7Z"/><path d="M281.7,780.4 280.8,780.1 278.2,779.8 273.9,779.4 267.9,778.9 261.5,778.9 256.9,780.3 254.1,783.1 253.0,787.3 253.5,791.9 255.5,795.3 259.0,797.7 263.9,798.9 269.2,799.4 273.2,799.6 275.9,799.7 277.2,799.4 277.8,798.7 278.5,796.9 279.3,794.2 280.2,790.4 281.0,786.3 281.5,783.3 281.7,781.3Z"/><path d="M295.7,781.6 300.1,782.1 303.7,783.4 306.4,785.5 308.2,788.4 309.1,792.0 309.1,796.2 308.1,799.6 306.0,801.9 303.0,803.1 298.9,803.2 293.8,802.3 289.1,800.7 285.5,798.8 283.2,796.4 281.9,793.7 281.8,790.6 282.8,787.4 284.5,784.9 287.0,783.2 290.2,782.0 294.2,781.6Z"/><path d="M267.9,777.6 262.9,777.1 259.0,775.9 256.0,774.1 254.0,771.7 253.0,768.6 253.0,765.1 254.1,762.2 256.2,760.0 259.3,758.5 263.5,757.8 268.8,757.8 273.7,758.5 277.5,759.9 280.1,761.9 281.6,764.5 282.0,767.8 281.4,771.3 279.8,774.0 277.3,776.0 273.9,777.2 269.5,777.6Z"/><path d="M299.5,755.4 294.7,755.4 291.0,755.7 288.3,756.1 286.7,756.8 285.7,758.1 284.9,760.3 284.2,763.6 283.6,767.9 283.2,772.4 283.0,775.7 283.0,777.9 283.1,778.9 284.0,779.2 286.3,779.5 290.2,779.8 295.6,780.2 301.4,779.9 305.6,778.0 308.2,774.4 309.1,769.1 308.7,763.3 306.9,759.1 303.8,756.4Z"/><path d="M298.4,753.7 303.0,753.2 306.4,750.8 308.5,746.5 309.3,740.3 308.9,733.7 307.4,729.1 304.8,726.3 301.0,725.6 296.8,726.3 293.2,727.5 290.2,729.4 287.7,731.8 285.9,734.7 285.0,737.9 284.9,741.4 285.8,745.1 287.5,748.7 290.2,751.3 293.8,753.0Z"/><path d="M300.8,723.9 296.5,724.0 292.5,723.3 288.9,721.8 285.7,719.5 282.9,716.7 281.1,713.7 280.1,710.6 280.0,707.4 280.5,704.4 281.0,702.0 281.5,700.5 282.0,699.6 283.1,699.4 285.7,699.3 289.7,699.5 295.3,699.9 301.1,700.9 305.4,703.2 308.0,706.7 309.1,711.5 308.7,716.5 307.2,720.3 304.5,722.8Z"/><path d="M264.1,717.3 268.4,715.8 271.9,714.2 274.7,712.3 276.7,710.3 277.8,708.0 278.2,705.6 277.6,703.4 276.0,701.5 273.4,699.9 269.8,698.6 265.2,697.6 260.8,697.4 257.4,698.2 254.9,700.1 253.4,703.1 252.8,707.2 253.0,711.6 254.2,714.8 256.2,716.9 259.0,717.9 262.7,717.6Z"/><path d="M285.2,755.5 283.5,756.2 280.3,756.6 275.4,756.8 269.0,756.6 262.2,755.9 257.3,754.0 254.2,750.9 253.0,746.7 253.6,742.2 256.0,739.1 260.2,737.4 266.2,737.2 272.7,738.1 277.9,739.8 281.7,742.3 284.0,745.7 285.2,749.3 285.9,752.1 285.8,754.2Z"/><path d="M297.8,677.7 293.5,677.9 290.0,678.9 287.3,680.5 285.4,682.8 284.3,685.8 284.1,689.3 284.8,692.4 286.4,694.9 289.0,696.8 292.6,698.0 297.1,698.7 301.3,698.5 304.7,697.5 307.1,695.7 308.6,693.0 309.2,689.4 308.9,685.5 307.8,682.4 305.8,680.1 302.9,678.6 299.2,677.8Z"/><path d="M268.0,736.0 261.6,735.3 257.0,733.8 254.2,731.7 253.1,728.8 253.7,725.7 255.8,722.9 259.4,720.5 264.6,718.5 270.4,717.2 275.5,717.0 279.9,717.9 283.5,719.9 286.1,722.7 287.4,725.4 287.3,728.2 285.9,731.0 283.3,733.4 279.4,735.1 274.3,736.0Z"/><path d="M267.1,696.7 261.1,695.2 256.8,693.0 254.1,690.1 253.0,686.4 253.7,682.7 256.3,680.0 260.7,678.3 267.1,677.7 273.9,678.1 278.8,679.9 281.6,682.8 282.5,686.9 282.0,691.4 281.6,694.8 281.1,697.0 280.6,698.1 279.5,698.3 276.9,698.2 272.8,697.6Z"/><path d="M1158.1,928.8 1157.3,927.2 1157.4,924.7 1158.1,921.2 1159.6,916.7 1162.0,912.1 1165.5,909.2 1170.1,907.7 1175.7,907.9 1181.4,909.3 1185.5,911.5 1188.0,914.5 1189.0,918.3 1188.5,922.3 1186.7,925.6 1183.7,928.2 1179.4,930.0 1174.7,931.2 1170.6,931.9 1167.3,932.1 1164.7,931.9 1162.6,931.4 1160.8,930.7 1159.3,929.8Z"/><path d="M1150.1,891.2 1148.6,886.9 1148.4,883.3 1149.4,880.5 1151.6,878.4 1154.7,877.1 1157.9,876.6 1161.3,876.9 1164.9,877.9 1168.0,879.8 1169.6,882.6 1169.5,886.5 1167.9,891.4 1165.4,896.2 1162.9,899.6 1160.5,901.3 1158.3,901.6 1156.1,900.4 1154.0,898.4 1152.0,895.3Z"/><path d="M1143.2,903.5 1138.4,904.8 1135.0,906.9 1132.9,910.0 1132.0,913.9 1132.5,918.1 1134.4,921.2 1137.7,923.3 1142.5,924.5 1147.7,924.5 1152.1,923.1 1155.6,920.3 1158.2,916.1 1160.0,911.5 1161.2,908.1 1161.9,905.9 1162.1,904.9 1161.7,904.6 1160.8,904.3 1159.4,903.8 1157.5,903.2 1155.1,902.7 1151.9,902.6 1147.9,902.8Z"/><path d="M1180.8,878.5 1184.3,877.7 1186.8,876.2 1188.4,874.1 1188.9,871.4 1188.3,868.3 1186.1,865.4 1182.4,862.5 1177.1,859.8 1171.3,857.5 1166.6,856.2 1163.2,855.9 1160.8,856.6 1159.5,858.2 1158.5,860.3 1158.1,862.9 1158.2,866.1 1158.9,869.5 1160.4,872.3 1162.7,874.7 1165.9,876.5 1169.5,877.8 1173.3,878.5 1177.0,878.8Z"/><path d="M1155.7,955.3 1152.4,952.7 1150.8,949.6 1151.0,946.0 1153.0,941.9 1155.9,937.9 1158.7,935.3 1161.2,933.8 1163.5,933.6 1165.6,934.5 1167.6,936.6 1169.5,939.9 1171.2,944.3 1172.4,949.1 1172.5,952.8 1171.5,955.6 1169.3,957.4 1166.3,958.2 1163.0,958.2 1159.5,957.2Z"/><path d="M1182.3,955.8 1184.7,955.8 1186.6,954.7 1188.0,952.6 1188.9,949.4 1189.4,945.2 1189.4,940.2 1188.7,936.1 1187.3,933.2 1185.2,931.5 1182.3,931.0 1178.8,931.7 1175.7,933.2 1173.5,935.1 1172.2,937.6 1171.9,940.6 1172.5,944.1 1173.8,947.7 1175.4,950.6 1177.2,953.0 1179.2,954.6 1181.5,955.6Z"/><path d="M1164.0,903.7 1164.7,904.0 1167.0,904.6 1170.8,905.4 1176.0,906.4 1181.7,906.8 1185.8,905.0 1188.3,900.9 1189.3,894.7 1189.0,887.9 1187.7,883.2 1185.4,880.5 1182.1,880.0 1178.4,881.2 1175.0,883.5 1171.9,887.0 1169.1,891.8 1166.8,896.7 1165.1,900.3 1164.2,902.7Z"/><path d="M1156.2,929.8 1154.7,928.7 1152.1,927.7 1148.4,926.9 1143.6,926.2 1138.5,926.2 1134.9,928.1 1132.6,931.8 1131.7,937.2 1132.1,943.1 1133.3,947.3 1135.4,949.7 1138.4,950.4 1141.9,949.6 1145.3,947.8 1148.6,945.0 1151.7,941.3 1154.3,937.2 1156.0,933.9 1156.6,931.5Z"/><path d="M1160.0,967.4 1158.5,970.5 1155.6,972.6 1151.3,973.9 1145.7,974.3 1139.8,973.6 1135.5,971.6 1132.9,968.4 1131.9,963.9 1132.2,959.1 1133.4,955.5 1135.6,953.1 1138.6,952.0 1142.2,952.0 1145.8,952.6 1149.6,953.9 1153.5,955.9 1157.0,958.4 1159.3,961.1 1160.3,964.1Z"/><path d="M1162.0,967.8 1161.1,971.0 1160.7,973.6 1160.8,975.7 1161.5,977.3 1162.9,978.5 1165.8,979.5 1170.0,980.4 1175.6,981.2 1181.4,981.2 1185.6,979.6 1188.2,976.3 1189.1,971.2 1188.8,965.6 1187.6,961.5 1185.6,958.8 1182.7,957.6 1179.3,957.3 1176.1,957.5 1173.0,958.1 1170.1,959.0 1167.4,960.4 1165.1,962.3 1163.3,964.8Z"/><path d="M1175.6,1005.2 1181.3,1004.3 1185.5,1002.2 1188.0,999.0 1189.0,994.6 1188.4,990.0 1186.2,986.5 1182.4,984.1 1177.0,982.8 1171.0,982.7 1166.2,983.7 1162.6,986.0 1160.1,989.4 1158.7,993.4 1158.2,996.8 1158.6,999.7 1159.9,1002.1 1162.1,1003.8 1165.5,1004.9 1170.0,1005.4Z"/><path d="M1142.6,997.7 1147.9,997.3 1152.3,995.9 1155.6,993.4 1158.0,989.9 1159.5,986.0 1160.3,982.9 1160.4,980.4 1159.9,978.7 1158.4,977.6 1155.5,976.7 1151.3,976.1 1145.7,975.7 1139.8,976.0 1135.6,977.7 1132.9,981.0 1131.9,985.7 1132.4,990.8 1134.4,994.5 1137.8,996.8Z"/><path d="M1179.9,1031.3 1175.3,1030.8 1171.2,1029.6 1167.8,1027.7 1165.1,1025.1 1163.1,1022.2 1161.9,1019.2 1161.5,1016.4 1161.9,1013.7 1163.4,1011.1 1166.1,1009.1 1170.3,1007.7 1175.8,1006.7 1181.5,1006.7 1185.6,1008.6 1188.2,1012.2 1189.2,1017.7 1188.7,1023.7 1187.0,1027.9 1184.1,1030.5Z"/><path d="M1142.6,902.1 1139.0,902.6 1136.0,902.0 1133.8,900.5 1132.4,898.0 1131.7,894.4 1131.6,890.2 1132.1,886.6 1133.0,883.9 1134.4,882.0 1136.2,881.1 1138.5,881.1 1140.8,881.7 1143.0,883.0 1144.9,884.9 1146.7,887.3 1148.2,890.4 1149.4,893.7 1149.5,896.5 1148.6,898.8 1146.7,900.6 1143.8,901.8Z"/><path d="M1189.2,852.5 1189.0,848.3 1187.8,845.3 1185.9,843.5 1183.1,842.8 1179.5,843.3 1175.2,844.8 1171.5,846.3 1168.7,847.7 1166.6,848.9 1165.4,850.0 1164.9,850.9 1165.4,851.9 1166.7,853.1 1168.9,854.5 1172.1,856.2 1176.1,858.1 1180.5,859.7 1183.9,860.1 1186.5,859.2 1188.3,857.1 1189.1,853.8Z"/><path d="M1132.0,846.5 1132.5,842.0 1134.5,838.8 1137.9,836.7 1142.7,835.9 1148.1,836.2 1152.6,837.2 1156.1,839.0 1158.8,841.6 1160.6,844.5 1161.8,846.9 1162.5,848.8 1162.7,850.3 1162.4,851.5 1161.7,852.7 1160.7,853.9 1159.3,855.2 1157.4,856.4 1154.3,857.0 1150.1,857.2 1144.8,857.0 1139.4,856.0 1135.4,853.9 1133.0,850.8Z"/><path d="M1138.8,879.4 1135.9,878.7 1133.7,876.6 1132.4,873.3 1131.8,868.6 1132.3,863.7 1134.4,860.4 1137.9,858.5 1143.0,858.2 1148.4,859.2 1152.5,860.8 1155.1,863.2 1156.3,866.3 1156.2,869.6 1155.4,872.4 1153.7,874.8 1151.3,876.6 1148.3,878.0 1145.2,878.9 1142.0,879.4Z"/><path d="M1144.2,1020.9 1150.2,1019.4 1154.9,1017.6 1158.1,1015.5 1160.0,1013.0 1160.6,1010.4 1160.6,1007.9 1159.9,1005.7 1158.6,1003.6 1156.4,1001.8 1153.2,1000.5 1149.1,999.6 1144.0,999.2 1138.9,999.7 1135.1,1001.7 1132.8,1005.3 1131.9,1010.5 1132.5,1015.9 1134.7,1019.4 1138.6,1021.1Z"/><path d="M1145.2,1042.3 1139.5,1041.7 1135.3,1043.1 1132.8,1046.5 1131.8,1051.9 1132.2,1057.9 1133.5,1062.4 1135.6,1065.2 1138.7,1066.5 1142.2,1066.6 1145.6,1066.4 1148.9,1065.8 1152.2,1064.9 1155.1,1063.7 1157.4,1062.7 1159.1,1061.6 1160.2,1060.6 1160.8,1059.5 1160.9,1057.6 1160.5,1055.2 1159.6,1052.1 1157.9,1048.8 1155.0,1046.1 1150.7,1043.9Z"/><path d="M1131.5,1082.3 1131.7,1087.8 1132.7,1092.1 1134.5,1095.1 1136.9,1096.8 1140.2,1097.3 1143.9,1096.6 1146.9,1095.1 1148.9,1092.7 1149.9,1089.6 1149.9,1085.8 1149.0,1081.1 1147.5,1076.8 1145.8,1073.4 1143.8,1070.8 1141.6,1069.0 1139.1,1068.2 1136.6,1068.3 1134.6,1069.6 1133.1,1072.0 1132.1,1075.6 1131.5,1080.4Z"/><path d="M1167.2,1073.3 1170.4,1078.1 1171.2,1082.3 1169.8,1086.0 1166.1,1089.2 1161.4,1091.7 1157.9,1093.5 1155.6,1094.6 1154.5,1095.0 1154.0,1094.3 1153.2,1092.0 1152.0,1088.1 1150.5,1082.6 1149.2,1076.6 1149.2,1071.9 1150.4,1068.5 1152.9,1066.5 1156.2,1065.9 1159.7,1066.8 1163.4,1069.3Z"/><path d="M1175.7,824.9 1181.3,825.5 1185.5,826.8 1188.0,828.9 1188.9,831.7 1188.3,834.8 1186.3,837.7 1182.7,840.3 1177.6,842.7 1171.9,844.3 1167.3,844.7 1163.6,843.7 1160.9,841.4 1159.2,838.4 1158.5,835.4 1158.7,832.6 1160.0,829.9 1162.2,827.6 1165.6,826.0 1170.1,825.1Z"/><path d="M1175.7,823.5 1181.4,823.3 1185.6,821.6 1188.1,818.4 1189.1,813.6 1188.5,808.4 1186.5,804.6 1182.9,802.2 1177.9,801.1 1172.2,801.2 1167.6,801.9 1164.0,803.2 1161.3,805.1 1159.6,807.6 1158.9,810.2 1159.1,813.0 1160.2,816.0 1162.4,818.9 1165.7,821.2 1170.1,822.7Z"/><path d="M1145.4,1040.8 1139.7,1039.4 1135.6,1037.5 1133.1,1035.0 1132.1,1031.9 1132.7,1028.7 1135.0,1026.0 1138.9,1023.8 1144.4,1022.2 1150.6,1021.4 1155.7,1021.6 1159.8,1022.9 1162.8,1025.2 1164.7,1028.2 1165.4,1031.2 1164.7,1034.1 1162.8,1037.0 1159.8,1039.5 1155.9,1040.9 1151.1,1041.4Z"/><path d="M1142.8,810.7 1148.3,811.0 1152.7,812.2 1156.1,814.1 1158.4,816.8 1159.8,819.9 1160.3,822.9 1159.9,825.7 1158.6,828.4 1156.4,830.8 1153.3,832.6 1149.1,833.8 1144.0,834.4 1138.8,833.9 1135.1,832.0 1132.8,828.4 1131.9,823.4 1132.4,817.9 1134.4,813.9 1137.9,811.5Z"/><path d="M1131.9,795.6 1132.4,801.4 1134.4,805.6 1137.9,808.2 1142.9,809.2 1148.3,808.9 1152.9,808.1 1156.5,806.7 1159.1,804.7 1160.8,802.3 1161.6,799.6 1161.5,796.6 1160.5,793.4 1158.6,790.3 1155.4,787.9 1151.0,786.1 1145.4,785.0 1139.6,785.1 1135.4,786.8 1132.8,790.4Z"/><path d="M1162.0,791.9 1163.9,795.0 1167.0,797.3 1171.1,798.8 1176.4,799.6 1181.9,799.2 1185.8,797.2 1188.2,793.5 1189.2,788.2 1188.7,782.4 1186.9,778.2 1183.9,775.6 1179.6,774.6 1174.8,774.9 1170.6,775.8 1167.1,777.4 1164.3,779.7 1162.2,782.5 1161.2,785.5 1161.1,788.6Z"/><path d="M1163.8,1038.6 1166.7,1036.1 1170.1,1034.3 1174.1,1033.2 1178.7,1032.9 1183.1,1033.5 1186.4,1035.5 1188.4,1038.9 1189.1,1043.6 1188.5,1048.7 1186.3,1052.6 1182.5,1055.2 1177.1,1056.6 1171.3,1056.9 1166.7,1056.1 1163.4,1054.3 1161.4,1051.4 1160.6,1048.0 1160.7,1044.7 1161.8,1041.6Z"/><path d="M1177.3,1058.1 1171.5,1058.8 1167.1,1059.5 1164.1,1060.4 1162.5,1061.3 1162.2,1062.7 1163.1,1065.0 1165.1,1068.3 1168.4,1072.7 1172.3,1077.1 1176.0,1080.4 1179.4,1082.6 1182.7,1083.5 1185.5,1083.1 1187.5,1080.9 1188.8,1076.9 1189.3,1071.3 1188.6,1065.2 1186.5,1060.9 1182.7,1058.6Z"/><path d="M1145.1,1124.8 1138.3,1122.6 1134.0,1118.8 1132.1,1113.4 1132.5,1107.1 1134.9,1102.4 1139.5,1099.5 1145.7,1098.1 1150.4,1097.3 1153.2,1096.9 1154.2,1097.0 1155.5,1098.4 1157.9,1101.3 1161.5,1105.9 1164.1,1110.9 1164.5,1115.5 1162.8,1119.8 1160.0,1123.4 1158.2,1125.7 1157.2,1126.8 1156.3,1126.9 1153.2,1126.3 1147.9,1125.3Z"/><path d="M1165.9,1091.0 1170.9,1088.5 1175.3,1086.7 1179.2,1085.6 1182.7,1085.3 1185.5,1086.0 1187.5,1088.3 1188.8,1092.2 1189.2,1097.8 1188.8,1103.7 1187.0,1108.1 1184.0,1111.0 1179.8,1112.3 1174.9,1112.2 1170.4,1110.9 1166.5,1108.6 1163.0,1105.1 1160.6,1101.1 1160.3,1097.4 1162.0,1094.0Z"/><path d="M1132.0,774.8 1132.6,771.0 1134.8,767.7 1138.6,765.2 1144.0,763.2 1150.0,762.1 1155.1,762.3 1159.1,763.7 1162.1,766.4 1164.0,769.8 1164.8,773.0 1164.3,776.0 1162.6,778.8 1159.8,781.2 1156.0,782.8 1151.2,783.6 1145.5,783.6 1139.7,782.7 1135.6,781.0 1133.0,778.3Z"/><path d="M1160.0,757.1 1160.8,755.9 1162.8,754.4 1166.0,752.4 1170.3,750.1 1175.1,747.8 1179.1,746.1 1182.4,745.1 1184.9,744.8 1186.7,745.6 1188.1,748.1 1188.9,752.3 1189.2,758.2 1188.8,764.6 1187.0,769.2 1184.0,772.0 1179.6,773.0 1174.8,772.6 1170.6,771.4 1167.1,769.3 1164.3,766.4 1162.2,763.1 1160.8,760.5 1160.1,758.5Z"/><path d="M1186.2,709.7 1187.7,710.4 1188.7,713.2 1189.3,718.2 1189.6,725.4 1189.4,733.0 1188.7,738.6 1187.5,741.9 1185.8,743.1 1183.6,742.6 1180.7,741.0 1177.3,738.4 1173.2,734.8 1169.7,730.6 1168.4,726.5 1169.5,722.4 1172.9,718.4 1177.5,714.8 1181.2,712.2 1184.2,710.5Z"/><path d="M1151.0,708.9 1152.4,705.1 1153.8,702.2 1155.1,700.2 1156.4,699.1 1158.1,698.9 1160.9,699.5 1164.9,701.0 1169.9,703.2 1174.7,706.2 1176.8,709.3 1176.2,712.8 1173.0,716.5 1168.4,720.1 1164.9,722.6 1162.4,724.2 1160.9,724.8 1159.9,724.7 1158.4,724.0 1156.5,722.8 1154.1,721.1 1151.8,718.9 1150.5,716.1 1150.2,712.8Z"/><path d="M1143.2,696.3 1138.5,694.9 1135.0,692.8 1132.9,690.0 1132.0,686.4 1132.7,682.6 1135.3,679.9 1140.0,678.3 1146.6,677.6 1153.5,678.1 1158.2,679.7 1160.6,682.5 1160.8,686.4 1159.5,690.7 1158.3,694.0 1157.0,696.1 1155.7,697.3 1154.1,697.6 1151.4,697.5 1147.8,697.1Z"/><path d="M1131.8,753.7 1132.1,748.3 1133.4,744.4 1135.4,742.0 1138.4,741.1 1141.9,741.5 1145.2,742.6 1148.5,744.6 1151.8,747.4 1154.6,750.5 1156.6,753.0 1157.6,755.0 1157.8,756.4 1156.9,757.4 1154.5,758.7 1150.6,760.0 1145.2,761.5 1139.5,762.4 1135.3,761.4 1132.8,758.5Z"/><path d="M1139.8,718.5 1136.4,719.2 1133.9,721.1 1132.4,724.2 1131.8,728.6 1132.1,733.3 1133.3,736.6 1135.3,738.7 1138.3,739.5 1141.7,739.1 1145.0,737.9 1148.2,735.9 1151.3,733.1 1153.8,729.9 1154.9,727.0 1154.5,724.5 1152.7,722.3 1149.9,720.5 1146.8,719.3 1143.4,718.6Z"/><path d="M1162.3,687.9 1163.9,683.6 1166.8,680.5 1170.9,678.6 1176.3,677.8 1181.9,678.5 1185.9,681.1 1188.4,685.5 1189.4,691.8 1189.2,698.6 1188.6,703.6 1187.7,706.7 1186.4,707.9 1184.4,707.7 1181.4,706.8 1177.4,705.2 1172.3,702.8 1167.2,699.8 1163.9,696.3 1162.2,692.4Z"/><path d="M1160.8,726.8 1161.9,727.1 1164.0,728.6 1167.0,731.0 1170.9,734.6 1174.5,738.6 1175.6,742.2 1174.4,745.4 1170.7,748.2 1165.8,750.3 1161.3,750.8 1157.3,749.8 1153.8,747.3 1151.2,743.9 1150.2,740.6 1150.7,737.2 1152.7,733.8 1155.6,730.8 1157.9,728.6 1159.6,727.3Z"/><path d="M1138.7,716.9 1141.4,716.5 1143.8,715.6 1145.9,714.1 1147.6,712.1 1149.0,709.5 1150.1,706.5 1150.2,703.8 1149.4,701.6 1147.7,699.7 1145.1,698.3 1141.4,697.3 1138.0,697.1 1135.3,697.8 1133.4,699.5 1132.1,702.1 1131.7,705.6 1131.8,709.5 1132.6,712.6 1133.8,714.9 1135.6,716.3 1137.8,716.9Z"/><path d="M1189.0,1145.2 1188.0,1144.8 1185.4,1143.3 1180.9,1140.7 1174.7,1137.0 1168.3,1132.8 1164.4,1128.8 1162.9,1125.1 1163.8,1121.6 1166.6,1118.6 1170.0,1116.4 1174.0,1114.8 1178.7,1114.0 1183.3,1114.5 1186.6,1117.0 1188.7,1121.6 1189.4,1128.3 1189.4,1135.5 1189.3,1140.8 1189.2,1144.0Z"/><path d="M1143.1,1126.0 1147.3,1127.1 1150.3,1128.8 1152.2,1131.2 1153.0,1134.1 1152.6,1137.7 1151.2,1141.7 1149.4,1145.1 1147.3,1147.8 1144.9,1149.8 1142.2,1151.1 1139.2,1151.6 1136.6,1151.2 1134.5,1149.8 1132.9,1147.2 1132.0,1143.6 1131.6,1138.9 1131.9,1133.9 1133.0,1130.1 1135.0,1127.5 1137.9,1126.0 1141.6,1125.8Z"/><path d="M1155.3,1154.4 1152.9,1152.5 1151.8,1149.5 1151.8,1145.5 1153.0,1140.6 1154.9,1135.6 1156.3,1132.0 1157.3,1129.7 1157.8,1128.7 1158.7,1129.1 1161.4,1130.5 1165.8,1133.1 1172.1,1136.7 1178.1,1140.9 1180.6,1144.7 1179.6,1148.2 1175.1,1151.3 1168.7,1153.8 1163.3,1155.1 1158.8,1155.3Z"/><path d="M1147.2,1176.1 1140.6,1177.1 1135.8,1176.1 1132.9,1172.9 1131.8,1167.7 1132.2,1161.8 1133.7,1157.4 1136.1,1154.5 1139.6,1153.2 1143.5,1153.1 1147.1,1153.4 1150.5,1154.2 1153.5,1155.5 1156.1,1157.2 1158.1,1159.5 1159.4,1162.1 1160.1,1165.3 1159.7,1168.6 1157.5,1171.5 1153.3,1174.0Z"/><path d="M1162.2,1166.2 1162.6,1162.7 1164.8,1159.4 1168.6,1156.2 1174.2,1153.2 1180.2,1150.5 1184.7,1148.6 1187.6,1147.4 1188.8,1146.9 1189.1,1147.6 1189.2,1150.2 1189.3,1154.6 1189.3,1160.9 1188.9,1167.7 1187.2,1172.7 1184.2,1175.8 1180.1,1177.2 1175.5,1177.2 1171.7,1176.9 1168.6,1176.3 1166.4,1175.3 1164.8,1173.8 1163.6,1171.8 1162.7,1169.3Z"/><path d="M1147.5,1177.3 1141.0,1179.2 1136.2,1181.5 1133.3,1184.2 1132.1,1187.3 1132.8,1190.5 1135.4,1193.1 1139.8,1195.3 1146.2,1197.1 1153.2,1197.9 1158.6,1197.0 1162.6,1194.4 1165.0,1190.2 1166.2,1185.3 1166.5,1181.4 1166.1,1178.5 1164.8,1176.6 1162.6,1175.7 1158.9,1175.5 1153.9,1176.1Z"/><path d="M1180.0,1178.8 1175.5,1179.6 1171.7,1181.5 1168.9,1184.8 1166.9,1189.2 1165.5,1194.0 1164.6,1197.5 1164.1,1199.7 1164.1,1200.7 1164.8,1201.0 1167.0,1201.3 1170.8,1201.8 1176.0,1202.4 1181.6,1202.4 1185.7,1200.6 1188.2,1197.1 1189.2,1191.8 1188.8,1186.1 1187.1,1182.0 1184.2,1179.6Z"/><path d="M1147.8,1198.8 1141.0,1197.9 1136.1,1198.9 1133.1,1201.6 1132.0,1206.2 1132.6,1211.4 1134.7,1215.4 1138.4,1218.0 1143.6,1219.5 1149.3,1220.0 1153.5,1220.3 1156.2,1220.4 1157.5,1220.3 1157.9,1219.7 1158.5,1218.0 1159.3,1215.3 1160.3,1211.6 1161.3,1207.7 1161.9,1204.8 1162.3,1202.9 1162.3,1202.0 1161.4,1201.7 1158.8,1201.1 1154.2,1200.1Z"/><path d="M1175.9,1203.7 1180.3,1204.4 1183.7,1205.7 1186.4,1207.7 1188.1,1210.3 1189.0,1213.5 1189.0,1217.2 1188.0,1220.1 1186.0,1222.2 1182.9,1223.3 1178.8,1223.5 1173.6,1222.7 1168.9,1221.4 1165.4,1219.7 1163.1,1217.5 1161.9,1214.9 1162.0,1211.9 1163.0,1208.8 1164.8,1206.5 1167.3,1204.8 1170.5,1203.9 1174.5,1203.6Z"/><path d="M1157.6,1230.3 1158.0,1234.2 1160.5,1237.0 1165.2,1238.7 1171.9,1239.4 1179.2,1239.1 1184.5,1238.1 1187.7,1236.2 1188.9,1233.4 1188.2,1230.4 1185.7,1227.8 1181.3,1225.7 1175.2,1224.1 1168.5,1222.9 1163.6,1222.1 1160.5,1221.7 1159.0,1221.7 1158.6,1222.4 1158.3,1224.0 1157.9,1226.7Z"/><path d="M1131.8,1230.0 1132.1,1226.6 1133.3,1223.9 1135.3,1222.0 1138.1,1221.0 1141.9,1220.7 1146.2,1221.2 1149.9,1222.2 1152.7,1223.8 1154.6,1225.8 1155.6,1228.3 1155.7,1231.3 1154.9,1234.1 1153.4,1236.3 1151.1,1237.9 1148.0,1238.9 1144.2,1239.3 1140.1,1239.1 1136.8,1238.2 1134.4,1236.5 1132.8,1234.2 1131.9,1231.2Z"/><path d="M363.2,1256.0 359.5,1263.4 358.7,1269.5 360.6,1274.2 365.2,1277.5 371.3,1279.4 376.2,1279.9 380.1,1278.9 382.8,1276.5 384.4,1272.8 384.5,1268.2 383.1,1262.6 380.2,1256.2 376.8,1249.8 374.3,1245.2 372.7,1242.3 372.1,1241.2 371.6,1241.9 370.0,1244.7 367.2,1249.4Z"/><path d="M362.0,1255.5 357.6,1262.7 354.0,1268.0 351.5,1271.5 349.8,1273.0 348.6,1273.2 346.6,1272.6 344.0,1271.3 340.8,1269.2 337.5,1266.4 335.1,1262.8 333.7,1258.4 333.1,1253.2 334.1,1247.9 337.4,1244.2 343.0,1241.8 351.0,1240.8 359.1,1241.5 363.6,1244.2 364.6,1248.9Z"/><path d="M412.2,1253.4 411.7,1258.2 410.4,1262.0 408.4,1265.0 405.7,1267.0 402.2,1268.1 398.1,1268.3 394.1,1267.5 390.4,1265.6 386.9,1262.7 383.6,1258.8 380.5,1253.9 378.9,1249.2 379.2,1245.6 381.4,1243.0 385.6,1241.3 391.8,1240.7 398.7,1241.0 404.3,1242.3 408.3,1244.6 410.9,1247.7 412.1,1251.8Z"/><path d="M379.4,1292.2 378.2,1288.5 375.6,1285.2 371.6,1282.2 366.2,1279.6 360.4,1277.4 355.9,1276.0 352.7,1275.2 350.8,1275.1 349.7,1276.0 348.6,1278.2 347.4,1281.9 346.2,1286.9 345.9,1292.2 348.3,1296.0 353.3,1298.4 360.9,1299.3 369.2,1299.0 375.1,1297.7 378.4,1295.4Z"/><path d="M331.3,1251.6 330.7,1257.0 329.0,1261.4 326.3,1264.9 322.5,1267.3 318.2,1268.9 314.4,1269.6 310.9,1269.4 307.9,1268.4 305.5,1266.5 303.6,1263.4 302.5,1259.2 302.0,1253.8 302.6,1248.3 305.1,1244.3 309.5,1241.8 315.8,1240.9 322.5,1241.4 327.4,1243.4 330.3,1246.8Z"/><path d="M411.2,1283.7 410.1,1290.2 407.4,1295.0 403.1,1297.9 397.1,1299.1 390.8,1298.7 386.0,1297.4 382.9,1295.2 381.4,1291.9 381.2,1288.2 381.6,1284.5 382.7,1281.1 384.5,1277.7 387.0,1274.8 390.3,1272.5 394.5,1271.0 399.6,1270.2 404.6,1269.8 408.3,1269.7 410.7,1269.6 411.7,1269.7 411.8,1270.6 411.8,1273.2 411.6,1277.6Z"/><path d="M438.8,1285.5 439.4,1290.1 438.8,1293.7 436.9,1296.4 433.8,1298.2 429.4,1299.1 424.1,1299.1 419.6,1298.1 416.2,1296.0 413.9,1293.0 412.8,1288.9 412.8,1283.8 413.7,1279.2 415.3,1275.6 417.6,1273.2 420.6,1271.9 424.3,1271.8 428.3,1272.6 431.8,1274.3 434.6,1276.7 436.8,1280.0 438.4,1284.0Z"/><path d="M344.3,1286.6 342.6,1291.9 339.5,1295.7 335.0,1298.1 329.1,1299.1 323.0,1298.5 318.5,1296.3 315.6,1292.4 314.3,1286.9 314.5,1280.8 315.9,1275.9 318.5,1272.2 322.2,1269.6 326.6,1268.1 330.9,1267.7 334.9,1268.4 338.7,1270.2 341.9,1273.0 344.0,1276.7 344.8,1281.2Z"/><path d="M298.8,1299.2 291.8,1299.0 286.8,1298.7 283.6,1298.0 282.3,1297.1 282.3,1295.6 282.8,1292.9 283.7,1289.0 285.1,1284.0 287.0,1278.6 289.1,1274.4 291.6,1271.4 294.4,1269.5 297.4,1268.6 300.3,1268.3 303.2,1268.8 306.0,1269.9 308.5,1271.9 310.4,1275.2 311.7,1279.6 312.4,1285.4 312.0,1291.3 309.5,1295.5 305.1,1298.2Z"/><path d="M440.5,1285.2 442.2,1291.1 444.9,1295.3 448.8,1298.0 453.7,1299.0 458.8,1298.4 462.6,1296.1 465.2,1292.2 466.6,1286.6 466.6,1280.4 465.4,1275.3 462.8,1271.2 458.9,1268.3 454.4,1266.5 450.4,1265.9 446.9,1266.4 443.8,1268.0 441.5,1270.8 440.2,1274.6 439.8,1279.4Z"/><path d="M293.7,1267.4 296.5,1265.9 298.5,1263.1 299.7,1259.0 300.2,1253.8 299.6,1248.3 297.2,1244.3 293.2,1241.8 287.5,1240.9 281.4,1241.4 277.1,1243.1 274.6,1246.2 273.9,1250.6 274.5,1255.5 275.9,1259.5 278.0,1262.8 280.9,1265.3 284.2,1267.0 287.5,1267.9 290.6,1268.1Z"/><path d="M425.9,1270.2 420.8,1269.5 417.1,1269.0 414.7,1268.6 413.7,1268.3 413.6,1267.5 413.6,1265.1 413.7,1261.0 413.9,1255.3 414.9,1249.2 417.9,1244.7 422.7,1242.0 429.5,1240.9 436.8,1241.4 442.1,1243.2 445.5,1246.4 447.0,1250.9 446.9,1255.9 446.1,1260.2 444.6,1263.8 442.3,1266.6 439.3,1268.6 435.5,1269.9 431.1,1270.4Z"/><path d="M449.0,1250.7 449.8,1255.7 451.6,1259.9 454.6,1263.4 458.6,1266.1 463.2,1267.9 467.5,1268.7 471.6,1268.4 475.4,1267.2 478.7,1265.0 480.9,1261.8 482.1,1257.7 482.2,1252.7 481.0,1247.7 477.9,1244.0 472.8,1241.7 465.8,1240.8 458.3,1241.3 453.1,1243.1 450.0,1246.2Z"/><path d="M280.3,1297.1 279.8,1298.1 277.3,1298.8 273.0,1299.2 266.7,1299.3 260.0,1298.7 255.1,1296.5 252.0,1292.8 250.9,1287.6 250.9,1282.0 251.1,1277.9 251.6,1275.4 252.2,1274.4 253.5,1274.9 256.2,1276.6 260.4,1279.7 266.0,1284.1 271.9,1288.9 276.3,1292.7 279.1,1295.4Z"/><path d="M280.7,1267.4 278.1,1266.2 275.3,1265.6 272.4,1265.6 269.2,1266.2 265.8,1267.5 262.3,1269.4 260.3,1271.7 259.9,1274.3 261.1,1277.4 263.9,1280.8 268.3,1284.6 272.7,1287.5 276.5,1288.8 279.5,1288.6 281.9,1286.8 283.6,1283.5 284.5,1279.3 284.8,1275.6 284.4,1272.5 283.3,1270.0 281.5,1268.0Z"/><path d="M487.9,1266.9 486.0,1266.2 483.7,1266.3 480.8,1267.0 477.5,1268.5 474.1,1270.8 471.5,1274.3 469.7,1279.1 468.5,1285.0 468.6,1291.0 470.8,1295.4 475.0,1298.1 481.4,1299.1 488.3,1298.7 493.5,1297.5 496.9,1295.3 498.5,1292.3 498.8,1288.7 498.4,1285.0 497.3,1281.1 495.6,1277.2 493.5,1273.4 491.6,1270.5 489.7,1268.3Z"/><path d="M272.1,1252.0 271.4,1247.3 269.5,1243.9 266.3,1241.8 261.8,1241.0 257.0,1241.8 253.6,1244.5 251.4,1249.1 250.6,1255.8 250.7,1262.9 251.0,1268.0 251.4,1271.2 252.0,1272.4 253.2,1272.1 255.3,1271.1 258.4,1269.6 262.4,1267.3 266.7,1264.5 269.7,1260.9 271.5,1256.8Z"/><path d="M519.0,1246.9 518.7,1244.2 515.9,1242.3 510.6,1241.1 502.8,1240.7 494.4,1241.2 488.5,1243.1 485.0,1246.5 484.0,1251.2 484.7,1256.3 485.7,1260.3 486.9,1263.0 488.5,1264.6 490.7,1265.1 494.0,1264.4 498.6,1262.7 504.3,1259.9 510.1,1256.4 514.6,1253.1 517.5,1249.9Z"/><path d="M521.1,1247.3 522.1,1244.6 524.8,1242.6 529.1,1241.4 535.1,1240.9 541.5,1241.5 546.3,1243.7 549.5,1247.5 551.2,1252.8 551.4,1258.8 550.1,1263.7 547.3,1267.6 543.2,1270.4 538.5,1272.3 535.0,1273.6 532.5,1274.3 531.2,1274.3 530.3,1273.4 529.1,1271.4 527.4,1268.2 525.3,1263.8 523.2,1258.8 521.8,1254.4 521.1,1250.6Z"/><path d="M506.5,1260.1 502.1,1262.8 498.9,1265.6 496.9,1268.4 496.1,1271.3 496.5,1274.3 498.0,1277.2 500.2,1279.4 503.1,1280.6 506.7,1280.9 510.8,1280.3 515.7,1278.8 519.8,1276.7 522.7,1274.3 524.3,1271.4 524.7,1268.2 523.7,1264.5 521.7,1261.0 519.1,1258.8 516.0,1257.8 512.3,1258.0 508.0,1259.4Z"/><path d="M563.2,1285.9 561.6,1291.5 558.8,1295.5 554.7,1298.1 549.5,1299.0 544.0,1298.5 539.8,1296.6 536.9,1293.3 535.2,1288.6 534.9,1283.3 536.0,1278.9 538.7,1275.3 542.8,1272.6 547.6,1270.8 552.0,1269.9 555.8,1270.0 559.1,1271.0 561.7,1273.0 563.2,1276.1 563.7,1280.4Z"/><path d="M529.9,1276.2 530.6,1277.0 531.4,1279.2 532.2,1282.7 533.1,1287.4 533.1,1292.5 530.6,1296.1 525.7,1298.4 518.3,1299.3 510.2,1299.0 504.6,1297.8 501.3,1295.7 500.5,1292.7 501.8,1289.2 504.5,1286.1 508.7,1283.2 514.5,1280.6 520.6,1278.4 525.2,1277.0 528.3,1276.2Z"/><path d="M601.3,1279.5 598.4,1283.0 594.5,1284.5 589.7,1283.9 584.0,1281.2 578.5,1277.3 575.5,1273.5 574.9,1269.7 576.7,1265.9 580.3,1262.8 584.2,1261.1 588.6,1260.8 593.3,1262.1 597.9,1264.1 601.4,1265.9 603.7,1267.5 604.9,1268.9 605.1,1270.4 604.6,1272.7 603.3,1275.8Z"/><path d="M567.9,1272.1 567.0,1272.1 565.6,1271.7 563.6,1270.9 561.0,1269.6 558.3,1267.6 556.1,1264.3 554.4,1259.9 553.3,1254.4 553.2,1248.6 555.2,1244.5 559.1,1241.9 565.1,1240.9 571.7,1241.3 576.6,1242.7 579.7,1245.1 581.2,1248.6 581.3,1252.6 580.4,1256.5 578.7,1260.3 576.0,1264.0 573.0,1267.3 570.6,1269.8 568.9,1271.4Z"/><path d="M620.1,1273.8 615.0,1272.4 611.1,1271.1 608.5,1269.7 607.3,1268.4 607.1,1266.7 607.7,1263.8 609.0,1259.6 611.2,1254.2 613.8,1248.7 616.7,1244.6 619.7,1242.1 622.9,1241.1 626.1,1241.7 629.0,1244.0 631.6,1247.9 633.8,1253.5 635.5,1259.7 636.2,1264.8 636.0,1268.8 634.7,1271.7 632.5,1273.6 629.3,1274.5 625.2,1274.6Z"/><path d="M648.9,1268.8 644.9,1269.1 641.5,1269.9 638.7,1271.2 636.5,1273.1 634.8,1275.6 633.8,1278.9 633.4,1283.0 633.6,1287.8 635.0,1292.6 638.2,1296.1 643.2,1298.3 650.1,1299.2 657.5,1298.9 662.9,1297.9 666.4,1296.1 668.0,1293.5 668.0,1290.3 667.2,1286.8 665.6,1282.8 663.1,1278.4 660.0,1274.3 656.6,1271.3 652.9,1269.4Z"/><path d="M631.6,1288.0 631.4,1292.9 628.8,1296.4 623.9,1298.5 616.5,1299.3 608.5,1299.1 602.6,1298.2 599.0,1296.8 597.5,1294.8 597.7,1292.2 598.5,1289.1 600.0,1285.6 602.2,1281.7 605.0,1278.0 608.6,1275.7 613.0,1274.7 618.2,1275.2 623.4,1276.9 627.4,1279.6 630.1,1283.3Z"/><path d="M649.0,1266.7 645.0,1266.3 641.5,1264.1 638.5,1260.2 636.1,1254.7 634.9,1248.7 636.5,1244.4 640.9,1241.7 647.9,1240.7 655.9,1241.0 661.7,1241.8 665.4,1243.2 666.8,1245.1 666.7,1247.6 665.9,1250.5 664.4,1253.9 662.3,1257.7 659.6,1261.4 656.4,1264.2 652.9,1265.9Z"/><path d="M663.9,1276.3 667.1,1280.2 670.9,1282.0 675.2,1281.7 680.1,1279.4 684.8,1275.9 688.2,1273.0 690.2,1270.5 690.9,1268.5 690.2,1266.6 688.3,1264.3 685.0,1261.5 680.3,1258.3 675.2,1255.5 670.7,1254.6 666.9,1255.7 663.9,1258.7 661.8,1262.9 661.1,1267.3 661.8,1271.7Z"/><path d="M595.4,1294.8 594.6,1292.2 592.3,1289.3 588.5,1286.0 583.2,1282.3 577.4,1278.8 573.1,1276.2 570.2,1274.8 568.6,1274.3 567.9,1275.0 567.1,1277.2 566.1,1281.0 564.9,1286.2 564.6,1291.8 566.7,1295.8 571.2,1298.3 578.0,1299.3 585.6,1299.1 591.0,1298.3 594.2,1296.8Z"/><path d="M599.8,1240.6 594.0,1240.8 589.4,1241.6 586.1,1242.9 584.0,1244.8 583.2,1247.2 583.5,1250.1 584.6,1252.8 586.3,1255.2 588.6,1257.4 591.5,1259.4 595.1,1261.1 598.6,1261.9 601.9,1261.6 604.8,1260.1 607.4,1257.4 609.6,1253.6 611.1,1249.3 611.1,1245.8 609.5,1243.3 606.4,1241.6 601.7,1240.7Z"/><path d="M700.5,1276.9 704.2,1279.2 708.1,1280.0 711.9,1279.2 715.9,1277.0 719.5,1273.9 722.2,1271.4 723.8,1269.4 724.5,1267.9 724.1,1266.4 722.6,1264.1 720.0,1260.8 716.3,1256.7 712.0,1253.0 707.9,1251.5 704.0,1252.2 700.4,1255.3 697.2,1259.5 695.0,1263.0 693.6,1265.8 693.2,1268.0 693.7,1269.8 695.0,1271.9 697.3,1274.3Z"/><path d="M669.1,1245.3 669.8,1243.2 672.8,1241.7 678.2,1240.8 686.0,1240.5 694.4,1240.6 700.5,1241.1 704.3,1241.9 705.7,1243.0 705.4,1244.6 704.1,1247.0 702.0,1250.2 699.0,1254.1 695.3,1257.7 691.1,1259.4 686.4,1259.2 681.2,1256.9 676.2,1253.6 672.5,1250.6 670.1,1247.8Z"/><path d="M752.6,1275.5 749.2,1278.7 745.4,1280.1 741.3,1279.6 736.8,1277.4 732.5,1274.2 729.4,1271.5 727.5,1269.5 726.8,1267.9 727.3,1266.5 728.8,1264.3 731.4,1261.4 735.0,1257.7 739.3,1254.4 743.4,1253.4 747.3,1254.6 751.0,1258.0 754.0,1262.7 755.3,1267.2 754.8,1271.5Z"/><path d="M745.6,1292.7 744.8,1289.1 742.9,1285.6 739.9,1282.2 735.8,1278.8 731.1,1276.0 726.6,1274.9 722.3,1275.4 718.1,1277.6 714.5,1280.9 711.9,1284.3 710.3,1287.8 709.8,1291.4 710.7,1294.8 713.9,1297.2 719.3,1298.8 727.0,1299.4 735.2,1299.0 741.0,1297.8 744.5,1295.7Z"/><path d="M699.2,1278.5 702.7,1281.4 705.2,1284.5 706.8,1287.9 707.6,1291.5 706.8,1294.9 703.6,1297.3 697.9,1298.8 689.8,1299.4 681.1,1299.1 674.9,1298.1 671.3,1296.3 670.1,1293.8 671.0,1290.7 673.1,1287.5 676.5,1284.2 681.0,1280.7 686.1,1277.7 690.8,1276.4 695.2,1276.6Z"/><path d="M754.2,1276.6 751.2,1280.4 749.1,1284.2 748.0,1287.9 747.6,1291.5 748.6,1294.8 751.4,1297.1 756.1,1298.6 762.7,1299.1 769.8,1298.6 775.1,1296.5 778.6,1292.9 780.3,1287.9 780.7,1282.4 780.4,1277.8 779.4,1274.4 777.7,1271.9 775.4,1270.4 772.9,1269.3 770.2,1268.8 767.2,1268.7 764.0,1269.4 760.7,1270.9 757.5,1273.3Z"/><path d="M791.6,1273.7 788.2,1275.0 785.5,1277.6 783.6,1281.5 782.4,1286.7 782.6,1292.1 785.3,1296.0 790.5,1298.4 798.2,1299.3 806.5,1299.2 812.5,1298.4 816.3,1297.2 817.7,1295.5 817.3,1293.2 815.6,1290.2 812.8,1286.6 808.7,1282.2 804.0,1278.0 799.6,1275.2 795.5,1273.7Z"/><path d="M808.7,1279.9 813.4,1283.9 817.8,1285.4 822.0,1284.4 825.9,1281.1 829.3,1276.6 831.6,1273.0 833.0,1270.4 833.4,1268.8 832.6,1267.5 830.4,1265.7 826.8,1263.4 821.7,1260.6 816.1,1258.1 811.3,1257.5 807.5,1258.7 804.6,1261.8 802.9,1266.2 803.1,1270.6 805.0,1275.2Z"/><path d="M753.3,1258.2 750.0,1253.7 747.7,1250.0 746.3,1247.0 745.8,1244.7 746.6,1243.0 749.4,1241.8 754.1,1241.0 760.7,1240.7 767.7,1241.3 772.5,1243.5 775.0,1247.3 775.3,1252.7 774.0,1258.5 772.1,1262.7 769.8,1265.5 766.9,1266.6 763.6,1266.4 760.2,1264.9 756.8,1262.1Z"/><path d="M727.1,1240.5 718.9,1240.6 713.0,1241.0 709.4,1241.8 708.0,1243.0 708.4,1244.6 710.0,1247.1 712.6,1250.3 716.3,1254.4 720.7,1258.2 725.1,1259.7 729.5,1259.2 733.9,1256.4 737.9,1252.6 740.9,1249.3 742.8,1246.5 743.6,1244.3 742.9,1242.7 739.9,1241.5 734.7,1240.7Z"/><path d="M791.0,1271.7 787.5,1272.4 784.4,1272.4 781.7,1271.7 779.3,1270.4 777.5,1268.1 776.5,1264.8 776.2,1260.2 776.8,1254.6 778.4,1248.8 781.4,1244.6 785.7,1242.0 791.4,1240.9 797.4,1241.2 801.8,1242.3 804.8,1244.1 806.2,1246.6 806.4,1249.8 805.9,1253.2 804.7,1257.0 802.8,1261.0 800.4,1264.9 797.6,1267.9 794.5,1270.2Z"/><path d="M846.3,1276.9 851.7,1279.7 855.7,1282.9 858.3,1286.5 859.6,1290.5 859.1,1294.3 855.9,1297.1 850.0,1298.8 841.5,1299.4 832.2,1299.2 825.5,1298.5 821.4,1297.3 819.9,1295.6 820.3,1293.3 821.7,1290.3 824.0,1286.6 827.2,1282.2 831.2,1278.1 835.7,1275.8 840.7,1275.5Z"/><path d="M854.0,1241.2 851.3,1241.7 848.4,1243.9 845.3,1247.6 842.2,1252.8 839.2,1258.5 837.2,1262.9 836.0,1266.0 835.6,1267.9 836.4,1269.1 838.5,1270.8 842.1,1272.8 847.0,1275.3 852.5,1277.5 857.2,1278.2 860.9,1277.6 863.8,1275.5 865.7,1272.2 866.4,1267.8 865.9,1262.5 864.2,1256.1 861.8,1249.7 859.3,1245.1 856.7,1242.2Z"/><path d="M895.8,1283.5 896.3,1290.2 894.2,1295.1 889.4,1298.1 881.9,1299.2 873.6,1298.8 867.5,1297.3 863.6,1294.8 861.8,1291.2 861.7,1287.2 862.3,1283.4 863.6,1280.0 865.5,1276.9 868.1,1274.3 871.6,1272.3 875.9,1270.9 881.0,1270.2 886.3,1270.6 890.5,1272.9 893.7,1277.2Z"/><path d="M897.6,1283.1 899.9,1291.3 903.5,1296.5 908.3,1298.8 913.9,1298.3 918.8,1295.5 922.9,1290.4 926.1,1283.5 928.2,1277.6 929.3,1273.2 929.2,1270.3 928.8,1268.2 928.4,1266.7 927.9,1265.9 925.7,1265.5 920.7,1265.5 912.9,1265.9 904.6,1266.4 899.0,1267.1 896.2,1267.8 895.7,1269.1 896.0,1273.1 897.0,1279.7Z"/><path d="M882.6,1268.3 877.3,1267.9 872.7,1265.6 869.0,1261.6 865.9,1255.7 864.4,1249.3 865.6,1244.7 869.4,1241.9 876.0,1240.8 883.5,1241.5 889.0,1243.6 892.6,1247.3 894.1,1252.5 894.4,1258.1 894.4,1262.3 894.3,1265.2 894.0,1266.6 893.1,1267.1 890.9,1267.6 887.4,1268.0Z"/><path d="M946.2,1263.0 939.7,1264.8 935.0,1266.6 932.3,1268.6 931.5,1270.6 932.5,1272.9 935.4,1275.8 940.2,1279.2 946.9,1283.1 954.0,1286.8 959.3,1289.2 962.7,1290.2 964.3,1289.9 964.6,1288.3 964.4,1285.1 963.8,1280.6 962.7,1274.5 960.8,1268.4 957.4,1264.5 952.6,1262.7Z"/><path d="M895.9,1252.3 896.5,1256.6 898.1,1260.0 900.8,1262.4 904.4,1264.0 909.1,1264.5 914.6,1264.2 919.1,1263.1 922.6,1261.3 925.1,1258.7 926.4,1255.4 926.6,1251.4 925.8,1247.7 923.8,1244.7 920.9,1242.6 916.8,1241.3 911.7,1240.7 906.2,1241.0 901.9,1242.2 898.8,1244.2 896.8,1247.1 895.9,1250.8Z"/><path d="M945.9,1261.7 939.4,1263.2 934.5,1264.2 931.4,1264.6 929.9,1264.5 929.5,1263.6 929.1,1261.3 928.8,1257.7 928.6,1252.9 929.2,1247.7 932.1,1243.9 937.1,1241.6 944.4,1240.7 952.2,1241.0 958.0,1242.0 961.5,1243.6 963.0,1246.0 963.0,1248.8 962.7,1251.2 962.2,1253.2 961.4,1255.0 959.9,1256.6 956.7,1258.2 952.1,1259.9Z"/><path d="M981.1,1278.5 974.8,1281.6 969.9,1281.8 966.4,1279.4 964.3,1274.1 963.2,1267.7 962.7,1262.5 962.7,1258.8 963.2,1256.3 964.7,1255.1 967.5,1255.0 971.9,1256.0 977.6,1258.0 983.6,1260.7 988.2,1263.1 991.2,1265.2 992.6,1267.2 992.5,1269.1 990.5,1271.7 986.7,1274.8Z"/><path d="M981.6,1279.7 975.5,1283.5 971.0,1286.5 967.9,1288.8 966.5,1290.3 966.0,1291.5 965.7,1292.8 965.6,1294.2 965.5,1295.8 966.4,1297.3 969.7,1298.4 975.3,1299.1 983.2,1299.4 991.7,1298.9 997.9,1297.1 1001.6,1294.0 1003.1,1289.6 1002.9,1284.7 1002.1,1280.8 1000.8,1277.7 998.9,1275.5 996.3,1274.5 992.5,1274.8 987.6,1276.6Z"/><path d="M840.7,1252.0 838.0,1256.2 835.0,1259.1 831.6,1260.7 827.8,1261.0 823.7,1259.9 819.4,1257.7 815.6,1255.4 812.7,1253.0 810.4,1250.7 809.0,1248.5 808.3,1246.2 808.8,1244.2 810.8,1242.7 814.3,1241.5 819.3,1240.8 825.8,1240.5 832.7,1240.8 837.6,1241.9 840.7,1243.9 842.0,1246.8 841.3,1250.6Z"/><path d="M1013.0,1273.9 1008.3,1275.2 1004.3,1275.3 1001.0,1274.2 998.4,1272.2 996.5,1270.2 995.3,1268.0 994.8,1265.7 995.3,1262.0 996.9,1256.8 999.6,1250.3 1003.1,1245.1 1007.4,1242.0 1012.5,1241.1 1017.2,1242.1 1020.7,1245.0 1023.0,1249.7 1024.2,1255.3 1024.4,1260.1 1023.6,1264.3 1021.8,1267.9 1018.9,1270.8 1014.9,1273.1Z"/><path d="M1042.5,1261.8 1036.2,1261.4 1031.2,1261.9 1027.7,1263.3 1025.5,1265.7 1024.6,1268.8 1025.1,1272.0 1026.7,1275.5 1029.7,1279.2 1033.5,1282.4 1037.5,1283.6 1041.7,1283.0 1046.1,1280.4 1050.2,1276.8 1053.3,1273.8 1055.2,1271.2 1056.2,1269.2 1056.3,1267.5 1056.4,1266.2 1056.3,1265.2 1056.0,1264.4 1055.0,1263.9 1052.5,1263.2 1048.3,1262.6Z"/><path d="M997.3,1250.9 995.3,1254.6 992.7,1257.3 989.5,1258.7 985.7,1259.0 981.3,1258.1 976.5,1256.2 972.4,1254.1 969.2,1252.1 967.0,1250.0 965.6,1247.9 965.2,1245.8 965.9,1244.0 968.0,1242.5 971.4,1241.5 976.1,1240.8 982.2,1240.5 988.6,1240.7 993.4,1241.8 996.5,1243.6 997.9,1246.2 997.8,1249.6Z"/><path d="M1055.7,1252.0 1055.4,1248.2 1054.0,1245.2 1051.3,1243.0 1047.3,1241.5 1042.2,1240.7 1036.1,1240.7 1031.2,1241.3 1027.6,1242.6 1025.4,1244.5 1024.6,1247.1 1025.3,1250.3 1026.9,1253.4 1029.2,1255.9 1032.3,1257.9 1036.2,1259.4 1040.8,1260.3 1045.6,1260.6 1049.5,1260.0 1052.5,1258.6 1054.5,1256.3 1055.6,1253.2Z"/><path d="M1072.0,1264.5 1078.4,1264.0 1083.5,1264.2 1087.1,1265.1 1089.4,1266.5 1090.2,1268.8 1089.7,1272.4 1087.7,1277.2 1084.4,1283.3 1080.2,1289.0 1076.0,1291.3 1071.7,1290.4 1067.4,1286.1 1063.4,1280.2 1060.6,1275.5 1059.0,1271.9 1058.4,1269.4 1059.3,1267.8 1061.8,1266.4 1066.0,1265.3Z"/><path d="M925.9,1288.5 928.2,1284.6 931.3,1282.1 935.0,1280.9 939.4,1281.3 944.6,1283.0 950.2,1286.0 955.0,1288.8 958.7,1291.3 961.3,1293.3 962.8,1295.1 963.3,1296.4 962.4,1297.5 959.9,1298.4 956.0,1299.0 950.5,1299.4 943.5,1299.6 936.1,1299.3 930.6,1298.2 927.0,1296.3 925.3,1293.5 925.5,1289.9Z"/><path d="M1121.0,1251.5 1120.1,1247.0 1117.4,1243.7 1112.9,1241.7 1106.6,1240.9 1099.8,1241.4 1094.7,1243.2 1091.4,1246.4 1089.9,1250.8 1089.6,1255.7 1089.7,1259.8 1090.3,1263.0 1091.4,1265.3 1092.8,1267.0 1094.5,1268.4 1096.5,1269.5 1098.8,1270.3 1101.5,1270.5 1104.6,1270.0 1108.2,1268.7 1112.2,1266.5 1116.0,1263.7 1118.8,1260.2 1120.4,1256.1Z"/><path d="M1013.8,1275.8 1010.1,1277.5 1007.4,1280.1 1005.8,1283.7 1005.2,1288.3 1005.9,1293.0 1008.5,1296.4 1013.0,1298.5 1019.5,1299.3 1026.4,1299.0 1031.5,1298.1 1034.6,1296.5 1035.9,1294.2 1035.6,1291.5 1034.4,1288.4 1032.2,1285.0 1029.2,1281.4 1025.5,1278.1 1021.7,1276.0 1017.8,1275.3Z"/><path d="M1114.4,1267.4 1110.7,1270.5 1108.8,1274.5 1108.5,1279.4 1109.9,1285.2 1112.4,1291.1 1115.0,1295.3 1117.7,1297.9 1120.6,1298.9 1123.4,1298.2 1126.2,1296.0 1129.0,1292.0 1131.6,1286.5 1133.7,1280.3 1134.1,1275.0 1133.0,1270.9 1130.3,1267.7 1126.5,1265.7 1122.6,1264.9 1118.6,1265.5Z"/><path d="M1057.6,1252.1 1058.5,1247.3 1061.2,1243.8 1065.9,1241.7 1072.5,1240.8 1079.5,1241.2 1084.4,1243.0 1087.2,1246.1 1087.9,1250.6 1086.7,1255.4 1083.9,1259.1 1079.5,1261.6 1073.5,1263.0 1067.2,1263.5 1062.5,1263.7 1059.4,1263.6 1058.0,1263.2 1057.7,1262.2 1057.6,1260.0 1057.5,1256.7Z"/><path d="M1065.1,1285.5 1069.1,1291.2 1072.0,1295.3 1073.8,1298.0 1074.5,1299.1 1073.7,1299.3 1070.5,1299.4 1065.1,1299.5 1057.3,1299.5 1049.0,1299.3 1043.0,1298.4 1039.4,1296.8 1038.1,1294.5 1038.6,1291.7 1040.3,1288.7 1043.1,1285.4 1047.1,1281.8 1051.7,1279.0 1056.2,1278.6 1060.7,1280.8Z"/><path d="M1133.1,1286.9 1135.6,1280.9 1137.6,1276.6 1139.1,1273.9 1140.0,1272.8 1141.0,1273.0 1143.0,1274.1 1146.1,1276.0 1150.1,1278.8 1154.4,1282.1 1157.6,1285.4 1159.7,1288.7 1160.8,1292.1 1160.4,1295.1 1157.8,1297.3 1152.9,1298.7 1145.9,1299.2 1138.5,1298.6 1133.9,1296.4 1132.1,1292.5Z"/><path d="M1151.0,1277.5 1154.5,1279.7 1157.9,1280.9 1161.0,1281.1 1164.0,1280.2 1166.8,1278.4 1169.4,1275.7 1170.9,1272.8 1171.4,1269.8 1170.7,1266.7 1169.0,1263.5 1166.1,1260.2 1163.0,1257.8 1159.8,1256.6 1156.7,1256.8 1153.6,1258.3 1150.6,1261.0 1148.0,1264.6 1146.7,1267.9 1146.5,1271.1 1147.6,1274.0 1150.0,1276.7Z"/><path d="M1123.0,1251.4 1123.6,1246.9 1126.3,1243.6 1131.4,1241.6 1138.7,1240.8 1146.5,1241.0 1152.2,1241.9 1155.7,1243.4 1157.0,1245.6 1156.6,1248.4 1155.2,1251.7 1152.8,1255.6 1149.4,1260.1 1145.7,1264.4 1142.8,1267.6 1140.8,1269.6 1139.7,1270.4 1138.8,1270.3 1137.1,1269.5 1134.7,1268.1 1131.5,1266.0 1128.1,1263.3 1125.6,1260.0 1123.9,1256.0Z"/><path d="M1177.1,1299.1 1171.2,1298.8 1166.9,1297.6 1164.2,1295.7 1163.0,1292.8 1163.1,1289.5 1164.1,1286.0 1166.1,1282.4 1169.0,1278.8 1172.4,1275.4 1175.8,1272.9 1179.1,1271.3 1182.4,1270.6 1185.3,1271.1 1187.4,1273.5 1188.7,1277.7 1189.2,1283.8 1188.6,1290.3 1186.4,1295.1 1182.5,1298.0Z"/><path d="M1108.9,1287.4 1106.4,1281.5 1103.8,1277.0 1101.3,1274.1 1098.7,1272.6 1096.1,1272.7 1093.0,1274.6 1089.4,1278.4 1085.5,1284.1 1081.7,1290.3 1079.0,1294.8 1077.3,1297.7 1076.6,1298.9 1077.5,1299.1 1080.7,1299.2 1086.2,1299.3 1094.0,1299.4 1102.2,1298.8 1107.4,1296.6 1109.6,1292.8Z"/><path d="M1173.1,1240.8 1179.9,1241.4 1184.9,1243.8 1187.9,1247.9 1189.1,1253.8 1188.8,1260.1 1187.7,1264.6 1185.8,1267.4 1183.1,1268.5 1179.8,1268.1 1176.2,1266.6 1172.4,1264.0 1168.3,1260.3 1164.4,1256.1 1161.6,1252.3 1159.8,1249.0 1159.1,1246.2 1159.8,1243.9 1162.3,1242.2 1166.7,1241.2Z"/></g><path d="M311.5,677 L311.5,1228 Q311.5,1237 320.5,1237 L1119,1237 Q1128.5,1237 1128.5,1227 L1128.5,677" fill="#fff" stroke="#000" stroke-width="3"/><path d="M589,645 Q589,640 594,640 L1076,640 Q1081,640 1081,645 L1081,706 C1081,716 1084,722 1087.5,731 C1091,740 1094,744 1094,754 L1094,870 C1094,890 1118,893 1118,915 L1118,960 C1118,982 1094,985 1094,1000 L1094,1180 C1094,1212 1076,1235.5 1050,1235.5 L392,1235.5 Q380,1235.5 372,1226 L355,1208 Q347,1198 347,1186 L347,996 C347,982 322,982 322,960 L322,910 C322,888 347,885 347,868 L347,792 C347,765 366,747 392,747 L558,747 C578,747 589,735 589,716 Z" fill="#9d9d9d" stroke="#000" stroke-width="3.5" stroke-linejoin="round"/><line x1="347" y1="869" x2="380" y2="869" stroke="#b4b4b4" stroke-width="1"/><line x1="347" y1="892.5" x2="380" y2="892.5" stroke="#b4b4b4" stroke-width="1"/><line x1="347" y1="976" x2="380" y2="976" stroke="#b4b4b4" stroke-width="1"/><line x1="347" y1="983" x2="380" y2="983" stroke="#b4b4b4" stroke-width="1"/><line x1="347" y1="1006" x2="380" y2="1006" stroke="#b4b4b4" stroke-width="1"/><line x1="347" y1="1200" x2="380" y2="1200" stroke="#b4b4b4" stroke-width="1"/><line x1="910" y1="869" x2="1094" y2="869" stroke="#b4b4b4" stroke-width="1"/><line x1="910" y1="892.5" x2="1094" y2="892.5" stroke="#b4b4b4" stroke-width="1"/><line x1="910" y1="976" x2="1094" y2="976" stroke="#b4b4b4" stroke-width="1"/><line x1="910" y1="983" x2="1094" y2="983" stroke="#b4b4b4" stroke-width="1"/><line x1="910" y1="1006" x2="1094" y2="1006" stroke="#b4b4b4" stroke-width="1"/><line x1="911" y1="1199.6" x2="1094" y2="1199.6" stroke="#b4b4b4" stroke-width="1"/><line x1="589" y1="718.6" x2="1081" y2="718.6" stroke="#222" stroke-width="1.6"/><line x1="347" y1="781" x2="398" y2="781" stroke="#222" stroke-width="1.6"/><line x1="323" y1="919" x2="380" y2="919" stroke="#222" stroke-width="1.6"/><line x1="323" y1="957.5" x2="380" y2="957.5" stroke="#222" stroke-width="1.6"/><line x1="910" y1="919" x2="1117" y2="919" stroke="#222" stroke-width="1.6"/><line x1="910" y1="957.5" x2="1117" y2="957.5" stroke="#222" stroke-width="1.6"/><line x1="347" y1="1183.5" x2="381" y2="1183.5" stroke="#222" stroke-width="1.6"/><line x1="911" y1="1183.5" x2="1094" y2="1183.5" stroke="#222" stroke-width="1.6"/><path d="M380,795 L436,751 L526,751 L536,763 L910,792 L910,1232 L387,1232 L380,1226 Z" fill="#fff" stroke="#000" stroke-width="1.4"/><path d="M380,846.5 L910,846.5 L910,1232 L387,1232 L380,1226 Z" fill="url(#gWater)" stroke="#000" stroke-width="1.4"/><g stroke="#1a1a1a" stroke-width="1.6"><line x1="415.8" y1="856.8" x2="440.8" y2="856.8"/><line x1="447.7" y1="867.8" x2="458" y2="867.8"/><line x1="386.5" y1="874.7" x2="434.2" y2="874.7"/><line x1="412.2" y1="885.4" x2="450" y2="885.4"/><line x1="460.2" y1="889.4" x2="473.8" y2="889.4"/><line x1="527" y1="863" x2="549.7" y2="863"/><line x1="564.4" y1="850.2" x2="606.5" y2="850.2"/><line x1="560.7" y1="877" x2="573.5" y2="877"/><line x1="613" y1="863.4" x2="640.6" y2="863.4"/><line x1="662.3" y1="868.5" x2="672.5" y2="868.5"/><line x1="628.5" y1="876.6" x2="658.6" y2="876.6"/><line x1="668" y1="854.2" x2="708" y2="854.2"/><line x1="705.5" y1="867.8" x2="745.9" y2="867.8"/><line x1="704.4" y1="880.6" x2="733.8" y2="880.6"/><line x1="744.8" y1="886.8" x2="784.4" y2="886.8"/><line x1="784.4" y1="856.8" x2="808.2" y2="856.8"/><line x1="775.2" y1="873.3" x2="795.4" y2="873.3"/><line x1="792.4" y1="881.7" x2="802.7" y2="881.7"/><line x1="851.1" y1="859" x2="861.4" y2="859"/><line x1="868" y1="868.9" x2="899.9" y2="868.9"/><line x1="844.1" y1="884.3" x2="869.8" y2="884.3"/><line x1="880.8" y1="892.3" x2="899.9" y2="892.3"/><line x1="389.4" y1="1196.6" x2="408.1" y2="1196.6"/><line x1="434.4" y1="1196.6" x2="460.7" y2="1196.6"/><line x1="420" y1="1202.3" x2="443.4" y2="1202.3"/><line x1="441.6" y1="1209.5" x2="462.5" y2="1209.5"/><line x1="390" y1="1212.8" x2="420" y2="1212.8"/><line x1="405.6" y1="1218.2" x2="446.3" y2="1218.2"/><line x1="658.7" y1="1198.7" x2="675.6" y2="1198.7"/><line x1="718.8" y1="1198.7" x2="763.8" y2="1198.7"/><line x1="788.2" y1="1198.7" x2="888" y2="1198.7"/><line x1="682" y1="1207.4" x2="745.8" y2="1207.4"/><line x1="731.4" y1="1211.3" x2="762" y2="1211.3"/><line x1="801.6" y1="1210.2" x2="819.6" y2="1210.2"/><line x1="859.2" y1="1208.8" x2="906" y2="1208.8"/><line x1="675.6" y1="1216" x2="702.6" y2="1216"/><line x1="729.6" y1="1217.8" x2="787.2" y2="1217.8"/><line x1="827.8" y1="1216.7" x2="852" y2="1216.7"/><line x1="684.6" y1="1225.7" x2="726.7" y2="1225.7"/></g><rect x="402" y="563.5" width="66" height="110" fill="url(#gCopper)" stroke="#000" stroke-width="1.6"/><rect x="397" y="684.5" width="76" height="45" fill="#e4e4e4" stroke="#000" stroke-width="1.6"/><rect x="396" y="673.5" width="77" height="6" fill="#ececec" stroke="#000" stroke-width="1.4"/><rect x="392.5" y="679" width="84" height="6.5" fill="#f2f2f2" stroke="#000" stroke-width="1.4"/><path d="M428.5,527 L440.5,527 L440.5,539 L446,539 L434.5,559.5 L423,539 L428.5,539 Z" fill="#0b4a9a"/><path d="M484.2,262 L513.8,262 L513.8,339.5 C510,343.5 504,344.5 500,341 C496,337.5 490,342.5 484.2,340 Z" fill="url(#gPipeV)" stroke="#000" stroke-width="1.6" stroke-linejoin="round"/><path d="M484.2,340 C488,336.5 495,336.5 500,341 C496,344 489,344 484.2,340 Z" fill="#fff" stroke="#000" stroke-width="1.3"/><path d="M484.2,354.5 C488,351 494,351 499.5,355 C503,358.5 510,356 513.8,353.5 L513.8,852 L484.2,852 Z" fill="url(#gPipeV)" stroke="#000" stroke-width="1.6" stroke-linejoin="round"/><path d="M499.5,355 C503,351 510,350 513.8,353.5 C510,357 503,358 499.5,355 Z" fill="#fff" stroke="#000" stroke-width="1.3"/><rect x="298" y="231.5" width="180" height="21.5" fill="url(#gPipeH)" stroke="#000" stroke-width="1.6"/><rect x="484.5" y="225" width="29" height="35" fill="url(#gPipeV)" stroke="#000" stroke-width="1.6"/><rect x="482.5" y="220.5" width="32" height="6" rx="1" fill="#e0e0e0" stroke="#000" stroke-width="1.6"/><rect x="483" y="258.5" width="31" height="6" rx="1" fill="#e0e0e0" stroke="#000" stroke-width="1.6"/><path d="M481,231 C492,231 498,236 498,242 C498,248 492,253 481,253 Z" fill="url(#gPipeH)" stroke="#000" stroke-width="1.6"/><rect x="476" y="230.5" width="5.5" height="23.5" rx="1" fill="#dadada" stroke="#000" stroke-width="1.5"/><rect x="289" y="230.5" width="10" height="24" rx="1" fill="#d6d6d6" stroke="#000" stroke-width="1.5"/><line x1="292" y1="231" x2="292" y2="254" stroke="#000" stroke-width="1"/><path d="M289,233 L272,233 Q268,233 268,228 L268,225 L242,225 L242,229 Q242,233 236,234 C220,236 209,241 206.5,250 L205,262.5 L219.5,263.5 L220,257 C222,251 230,249 240,253 C252,256 262,255 270,252 L289,252 Z" fill="url(#gTap)" stroke="#000" stroke-width="1.5" stroke-linejoin="round"/><rect x="242" y="218.5" width="28" height="8" fill="#e6e6e6" stroke="#000" stroke-width="1.4"/><line x1="248" y1="219" x2="248" y2="226" stroke="#000" stroke-width="1"/><line x1="264" y1="219" x2="264" y2="226" stroke="#000" stroke-width="1"/><rect x="245.5" y="211.5" width="22.5" height="7.5" fill="#d8d8d8" stroke="#000" stroke-width="1.2"/><path d="M247,188.5 L265,188.5 L265,195.5 L270.5,196 L270.5,212 L243,212 L243,196 L247,195.5 Z" fill="#e3161b" stroke="#000" stroke-width="0.8"/><rect x="251" y="185.5" width="9" height="4" fill="#ddd" stroke="#000" stroke-width="1"/><rect x="257" y="204" width="11" height="5" fill="#c0101a" stroke="#300" stroke-width="0.8"/><path d="M146,182 C145,174 152,172 160,173.5 C175,176 200,177 218,177.5 C226,178 232,182 238,189 L250,200 L244,206 L232,194 C228,190 222,188 215,188 C198,188 178,187 162,188 C152,190 147,189 146,182 Z" fill="#e3161b"/><g transform="rotate(4 212 276)"><path d="M205.5,262.5 L219.5,263 L224,270 L200.5,270 Z" fill="#cbcbcb" stroke="#000" stroke-width="1.2"/><rect x="197.5" y="269.5" width="29.5" height="10" rx="1.5" fill="#4a4a4a" stroke="#000" stroke-width="1.4"/><g fill="#d6d6d6"><rect x="200" y="271" width="1.6" height="7"/><rect x="203.5" y="271" width="1.6" height="7"/><rect x="207" y="271" width="1.6" height="7"/><rect x="210.5" y="271" width="1.6" height="7"/><rect x="214" y="271" width="1.6" height="7"/><rect x="217.5" y="271" width="1.6" height="7"/><rect x="221" y="271" width="1.6" height="7"/><rect x="224" y="271" width="1.6" height="7"/></g><rect x="198.5" y="279.5" width="27" height="3" fill="#e2e2e2" stroke="#000" stroke-width="1.1"/><path d="M203.5,282.5 L217,282.5 L216.5,303 L204,303 Z" fill="#ececec" stroke="#000" stroke-width="1.3"/><g stroke="#000" stroke-width="1.2"><line x1="203.8" y1="287.5" x2="216.8" y2="288"/><line x1="203.8" y1="292.5" x2="216.7" y2="293"/><line x1="203.9" y1="297.5" x2="216.6" y2="298"/></g></g><rect x="480.5" y="454.5" width="38" height="42" rx="3" fill="url(#gBrass)" stroke="#000" stroke-width="1.5"/><path d="M515,464.5 L528,464.5 L530,466 L530,485 L528,486.5 L515,486.5 C510,486.5 508,480 508,475.5 C508,471 510,464.5 515,464.5 Z" fill="url(#gBrass2)" stroke="#000" stroke-width="1.3"/><rect x="530" y="461" width="8" height="28" rx="2" fill="#3a3a3a"/><path d="M536.5,443 C536.5,437 540,433.5 546,433.5 L598,433.5 L598,520 L546,520 C540,520 536.5,516 536.5,510 Z" fill="url(#gDark)" stroke="#222" stroke-width="1.2"/><path d="M597,430 C606,428 618,428 624,431 C628,445 628,505 624,520 C618,524 606,524 597,522 Z" fill="url(#gDark)" stroke="#222" stroke-width="1.2"/><line x1="601" y1="430" x2="601" y2="522" stroke="#222" stroke-width="1.3"/><g stroke="#222" stroke-width="1.6"><line x1="604" y1="436" x2="614" y2="436"/><line x1="604" y1="440" x2="614" y2="440"/><line x1="604" y1="444" x2="614" y2="444"/><line x1="604" y1="448" x2="614" y2="448"/><line x1="604" y1="452" x2="614" y2="452"/><line x1="604" y1="456" x2="614" y2="456"/><line x1="604" y1="460" x2="614" y2="460"/><line x1="604" y1="464" x2="614" y2="464"/><line x1="604" y1="468" x2="614" y2="468"/><line x1="604" y1="472" x2="614" y2="472"/><line x1="604" y1="476" x2="614" y2="476"/><line x1="604" y1="480" x2="614" y2="480"/><line x1="604" y1="484" x2="614" y2="484"/><line x1="604" y1="488" x2="614" y2="488"/><line x1="604" y1="492" x2="614" y2="492"/><line x1="604" y1="496" x2="614" y2="496"/><line x1="604" y1="500" x2="614" y2="500"/><line x1="604" y1="504" x2="614" y2="504"/><line x1="604" y1="508" x2="614" y2="508"/><line x1="604" y1="512" x2="614" y2="512"/><line x1="604" y1="516" x2="614" y2="516"/></g><g stroke="#2a2a2a" stroke-width="2"><line x1="583" y1="439" x2="597" y2="439"/><line x1="583" y1="454" x2="597" y2="454"/><line x1="583" y1="476" x2="597" y2="476"/><line x1="583" y1="497" x2="597" y2="497"/><line x1="583" y1="513" x2="597" y2="513"/></g><path d="M624,462.5 L640,462.5 C646,465 648,470 648,477 C648,484 646,489 640,491 L624,491 Z" fill="#4a4a4a" stroke="#222" stroke-width="1.2"/><path d="M386,733 Q386,729.5 390,729.5 L477,729.5 L474,746 L382,746 Z" fill="#a9a9a9" stroke="#000" stroke-width="2.6" stroke-linejoin="round"/><path d="M481,729.5 L515.5,729.5 L519,746 L479,746 Z" fill="#a9a9a9" stroke="#000" stroke-width="2.6" stroke-linejoin="round"/><line x1="380" y1="747" x2="560" y2="747" stroke="#000" stroke-width="3.5"/><path d="M659,580.5 L545,580.5 C530,580.5 523,588 523,603 L523,800 C523,832 538,844 558,855 C582,868 590,882 587,924" fill="none" stroke="#111" stroke-width="8.5"/><path d="M659,580.5 L545,580.5 C530,580.5 523,588 523,603 L523,800 C523,832 538,844 558,855 C582,868 590,882 587,924" fill="none" stroke="#585858" stroke-width="5.5"/><path d="M662,580.5 L687,580.5" fill="none" stroke="#111" stroke-width="8.5"/><path d="M662,580.5 L687,580.5" fill="none" stroke="#585858" stroke-width="5.5"/><rect x="686" y="574.5" width="15" height="12" fill="#3a3a3a" stroke="#111" stroke-width="1"/><g stroke="#111" stroke-width="1"><line x1="689" y1="575" x2="689" y2="586"/><line x1="692" y1="575" x2="692" y2="586"/><line x1="695" y1="575" x2="695" y2="586"/><line x1="698" y1="575" x2="698" y2="586"/></g><path d="M701,575 L708,573 L714,572 L714,589 L708,588 L701,586.5 Z" fill="#3c3c3c" stroke="#111" stroke-width="1"/><rect x="714" y="566.5" width="16" height="27.5" rx="1.5" fill="#444" stroke="#111" stroke-width="1"/><path d="M719,572 L726,572 L726,578 M719,588 L726,588 L726,582" fill="none" stroke="#111" stroke-width="1.2"/><rect x="730" y="571.8" width="12" height="3.4" rx="1.5" fill="#f2f2f2" stroke="#111" stroke-width="0.9"/><rect x="730" y="586.2" width="12" height="3.4" rx="1.5" fill="#f2f2f2" stroke="#111" stroke-width="0.9"/><path d="M496,802 L502.5,802 L502.5,793 L506.5,793 L499.2,781 L491.8,793 L496,793 Z" fill="#0b4a9a"/><rect x="477" y="849" width="43" height="46" fill="url(#gPumpW)" stroke="#000" stroke-width="1.5"/><g stroke="#222" stroke-width="1"><line x1="481.5" y1="850" x2="481.5" y2="894"/><line x1="485.7" y1="850" x2="485.7" y2="894"/><line x1="489.9" y1="850" x2="489.9" y2="894"/><line x1="494.1" y1="850" x2="494.1" y2="894"/><line x1="498.3" y1="850" x2="498.3" y2="894"/><line x1="502.5" y1="850" x2="502.5" y2="894"/><line x1="506.7" y1="850" x2="506.7" y2="894"/><line x1="510.9" y1="850" x2="510.9" y2="894"/><line x1="515.1" y1="850" x2="515.1" y2="894"/></g><path d="M481,895 L517,895 L522,908 L476,908 Z" fill="#3a67ad" stroke="#101c38" stroke-width="1.2"/><path d="M474,928 L525,928 L525,938 L560,938 C580,938 596,942 603,950 L607,960 L607,1002 L474,1002 Z" fill="#3a67ad" stroke="#101c38" stroke-width="1.5"/><path d="M478,989 L478,956 C478,949 488,945 500,944 L585,944 C595,946 600,952 601,960 L601,989" fill="none" stroke="#101c38" stroke-width="1.4"/><path d="M499,970 C505,964 575,964 581,970" fill="none" stroke="#101c38" stroke-width="1.4"/><path d="M531,986 L531,973 C531,968 548,968 548,973 L548,986" fill="none" stroke="#101c38" stroke-width="1.3"/><g stroke="#101c38" stroke-width="1.2"><line x1="492" y1="949" x2="492" y2="985"/><line x1="500" y1="949" x2="500" y2="967"/><line x1="580" y1="949" x2="580" y2="967"/><line x1="587" y1="949" x2="587" y2="985"/><line x1="509" y1="972" x2="509" y2="988"/><line x1="572" y1="972" x2="572" y2="988"/></g><g fill="#e8eef8"><ellipse cx="489" cy="986" rx="3" ry="1.3"/><ellipse cx="538" cy="986" rx="3" ry="1.3"/><ellipse cx="592" cy="986" rx="3" ry="1.3"/></g><line x1="474" y1="989" x2="607" y2="989" stroke="#101c38" stroke-width="1.4"/><line x1="476" y1="995.5" x2="606" y2="995.5" stroke="#101c38" stroke-width="1.2"/><rect x="473" y="907" width="52.5" height="23" rx="3" fill="#101c38"/><g fill="#3a67ad"><rect x="477.5" y="910" width="4.6" height="18" rx="2.3"/><rect x="485.3" y="910" width="4.6" height="18" rx="2.3"/><rect x="493.1" y="910" width="4.6" height="18" rx="2.3"/><rect x="500.9" y="910" width="4.6" height="18" rx="2.3"/><rect x="508.7" y="910" width="4.6" height="18" rx="2.3"/><rect x="516.5" y="910" width="4.6" height="18" rx="2.3"/></g><path d="M534,885 L557.5,885 L555,920 L537,920 Z" fill="#3a67ad" stroke="#101c38" stroke-width="1.3"/><path d="M529,879.5 C530,876 536,876.5 540,877.5 C545,878.5 550,878.5 555,877 C559,876 563,876.5 563,880 C563,884.5 558,886.5 553,887.5 C548,888.3 542,888.3 537,887.3 C532,886.3 529,883.5 529,879.5 Z" fill="#3a67ad" stroke="#101c38" stroke-width="1.3"/><ellipse cx="546" cy="879.2" rx="6.5" ry="2" fill="#101c38"/><circle cx="546" cy="927.5" r="10" fill="#3a67ad" stroke="#101c38" stroke-width="1.4"/><circle cx="546" cy="927.5" r="5" fill="none" stroke="#101c38" stroke-width="1.2"/><circle cx="546" cy="927.5" r="1.6" fill="#fff"/><path d="M563,933 L610,951 C616,954 619,958 619,964 L619,975" fill="none" stroke="#101c38" stroke-width="6.5" stroke-linecap="round"/><path d="M563,933 L610,951 C616,954 619,958 619,964 L619,975" fill="none" stroke="#3a67ad" stroke-width="3.5" stroke-linecap="round"/><path d="M580,919 L591,922 L587,937 L576,934 Z" fill="#3a67ad" stroke="#101c38" stroke-width="1.2"/><path d="M604,962 L611,962 L611,985 L604,985 Z" fill="#3a67ad" stroke="#101c38" stroke-width="1.2"/><path d="M472.6,1002 L607.8,1002 L611,1136 L470.2,1136 Z" fill="url(#gPumpW)" stroke="#000" stroke-width="1.5"/><rect x="468.5" y="1136" width="143.5" height="50.5" fill="url(#gPumpW)" stroke="#000" stroke-width="1.5"/><path d="M480,1030 C481.5,1030 483.0,1101 483.0,1115 C483.0,1121 477.0,1121 477.0,1115 C477.0,1101 478.5,1030 480,1030 Z" fill="#fff" stroke="#000" stroke-width="1.2"/><path d="M540.6,1030 C543.6,1030 546.6,1101 546.6,1115 C546.6,1121 534.6,1121 534.6,1115 C534.6,1101 537.6,1030 540.6,1030 Z" fill="#fff" stroke="#000" stroke-width="1.2"/><path d="M600.6,1030 C602.1,1030 603.6,1101 603.6,1115 C603.6,1121 597.6,1121 597.6,1115 C597.6,1101 599.1,1030 600.6,1030 Z" fill="#fff" stroke="#000" stroke-width="1.2"/><g font-family="Liberation Sans, sans-serif" font-weight="bold" font-style="italic"><text transform="translate(503,1123) rotate(-90)" font-size="14.5" fill="#1d3b8c" stroke="#1d3b8c" stroke-width="0.6" textLength="100" lengthAdjust="spacingAndGlyphs">MULTI-TECH</text><text transform="translate(521,1123) rotate(-90)" font-size="15.5" fill="#e3161b" stroke="#e3161b" stroke-width="0.6" textLength="97" lengthAdjust="spacingAndGlyphs">AUTOMATIC</text></g><line x1="506.3" y1="1024" x2="506.3" y2="1123" stroke="#1d3b8c" stroke-width="1.1"/><line x1="522.3" y1="1024" x2="522.3" y2="1123" stroke="#1d3b8c" stroke-width="1.1"/><rect x="495" y="1161" width="20" height="16.7" rx="3.5" fill="#3a67ad" stroke="#101c38" stroke-width="1.2"/><path d="M468.5,1186.5 L612.5,1186.5 L612.5,1222 Q612.5,1228 606,1228 L475,1228 Q468.5,1228 468.5,1222 Z" fill="#3a67ad" stroke="#101c38" stroke-width="1.5"/><path d="M469,1194.5 L493.5,1194.5 L493.5,1227.5 L475,1227.5 Q469,1227.5 469,1222 Z" fill="#3a67ad"/><path d="M517,1194.5 L612,1194.5 L612,1222 Q612,1227.5 606,1227.5 L517,1227.5 Z" fill="#3a67ad"/><rect x="470.4" y="1195.5" width="2.2" height="32" rx="1" fill="#10182c"/><rect x="474.9" y="1195.5" width="2.2" height="32" rx="1" fill="#10182c"/><rect x="478.4" y="1195.5" width="2.2" height="32" rx="1" fill="#10182c"/><rect x="481.9" y="1195.5" width="2.2" height="32" rx="1" fill="#10182c"/><rect x="485.9" y="1195.5" width="2.2" height="32" rx="1" fill="#10182c"/><rect x="491.2" y="1195.5" width="2.2" height="32" rx="1" fill="#10182c"/><rect x="517.6" y="1195.5" width="2.2" height="32" rx="1" fill="#10182c"/><rect x="524.6" y="1195.5" width="2.2" height="32" rx="1" fill="#10182c"/><rect x="531.6" y="1195.5" width="2.2" height="32" rx="1" fill="#10182c"/><rect x="539.1" y="1195.5" width="2.2" height="32" rx="1" fill="#10182c"/><rect x="546.3" y="1195.5" width="2.2" height="32" rx="1" fill="#10182c"/><rect x="553.6" y="1195.5" width="2.2" height="32" rx="1" fill="#10182c"/><rect x="561.0" y="1195.5" width="2.2" height="32" rx="1" fill="#10182c"/><rect x="568.0" y="1195.5" width="2.2" height="32" rx="1" fill="#10182c"/><rect x="575.0" y="1195.5" width="2.2" height="32" rx="1" fill="#10182c"/><rect x="581.3" y="1195.5" width="2.2" height="32" rx="1" fill="#10182c"/><rect x="586.9" y="1195.5" width="2.2" height="32" rx="1" fill="#10182c"/><rect x="591.9" y="1195.5" width="2.2" height="32" rx="1" fill="#10182c"/><rect x="596.8" y="1195.5" width="2.2" height="32" rx="1" fill="#10182c"/><rect x="601.7" y="1195.5" width="2.2" height="32" rx="1" fill="#10182c"/><rect x="606.1" y="1195.5" width="2.2" height="32" rx="1" fill="#10182c"/><path d="M469,1195 L471,1195 L471,1227 L469,1224 Z" fill="#10182c"/><path d="M609.5,1195 L612,1195 L612,1224 L609.5,1227 Z" fill="#10182c"/><rect x="493.5" y="1228" width="26" height="5" fill="#8a8a8a" stroke="#333" stroke-width="0.8"/><rect x="588.5" y="1228" width="16" height="5" fill="#8a8a8a" stroke="#333" stroke-width="0.8"/><path d="M618.5,1213.5 L635,1202.5 L635,1208 L650,1208 L650,1219 L635,1219 L635,1224.5 Z" fill="#000"/><line x1="130" y1="241.5" x2="205" y2="241.5" stroke="#111" stroke-width="1.3"/><line x1="138.6" y1="250" x2="138.6" y2="925" stroke="#111" stroke-width="1.5"/><path d="M138.6,244.0 L143.1,268.0 L134.1,268.0Z" fill="#000"/><path d="M138.6,934.2 L143.1,910.2 L134.1,910.2Z" fill="#000"/><line x1="126" y1="936" x2="451" y2="936" stroke="#3c3c3c" stroke-width="1.6"/><line x1="614" y1="751.5" x2="1268" y2="751.5" stroke="#2a2a2a" stroke-width="1.3"/><line x1="1259.3" y1="760" x2="1259.3" y2="1228" stroke="#111" stroke-width="1.3"/><path d="M1259.3,752.0 L1263.8,776.0 L1254.8,776.0Z" fill="#000"/><path d="M1259.3,1237.0 L1263.8,1213.0 L1254.8,1213.0Z" fill="#000"/><line x1="1094" y1="1239.5" x2="1271" y2="1239.5" stroke="#111" stroke-width="1.4"/><line x1="347.5" y1="1208" x2="347.5" y2="1405" stroke="#111" stroke-width="1.3"/><line x1="1094.6" y1="1208" x2="1094.6" y2="1405" stroke="#111" stroke-width="1.3"/><line x1="355" y1="1397.5" x2="1087" y2="1397.5" stroke="#111" stroke-width="1.3"/><path d="M347.5,1397.5 L371.5,1393.0 L371.5,1402.0Z" fill="#000"/><path d="M1094.6,1397.5 L1070.6,1393.0 L1070.6,1402.0Z" fill="#000"/><line x1="821.2" y1="1146" x2="821.2" y2="1348.5" stroke="#111" stroke-width="1.3"/><path d="M821.2,1199.0 L825.2,1176.0 L817.2,1176.0Z" fill="#000"/><path d="M821.2,1242.5 L825.2,1265.5 L817.2,1265.5Z" fill="#000"/><line x1="820.5" y1="1348" x2="931.5" y2="1348" stroke="#111" stroke-width="1.3"/><rect x="577.5" y="1367.5" width="17" height="16.5" fill="none" stroke="#000" stroke-width="1.6"/><line x1="575" y1="1387" x2="597" y2="1365" stroke="#000" stroke-width="1.6"/><g font-family="Liberation Sans, sans-serif" font-weight="bold" fill="#000" stroke="#000" stroke-width="0.5"><text transform="translate(126,758.6) rotate(-90)" font-size="28.8" textLength="322" lengthAdjust="spacingAndGlyphs">Hauteur maximale usage</text><text transform="translate(170.4,625.3) rotate(-90)" font-size="29.6" textLength="61" lengthAdjust="spacingAndGlyphs">10 m</text><text transform="translate(1249.7,1104) rotate(-90)" font-size="29.5" textLength="235" lengthAdjust="spacingAndGlyphs">minimum 500 mm</text><text x="608" y="1386" font-size="27.6" textLength="233" lengthAdjust="spacingAndGlyphs">minimum 300 mm</text><text x="834" y="1338.7" font-size="27.6" textLength="86.5" lengthAdjust="spacingAndGlyphs">35 mm</text></g></svg></body></html>
